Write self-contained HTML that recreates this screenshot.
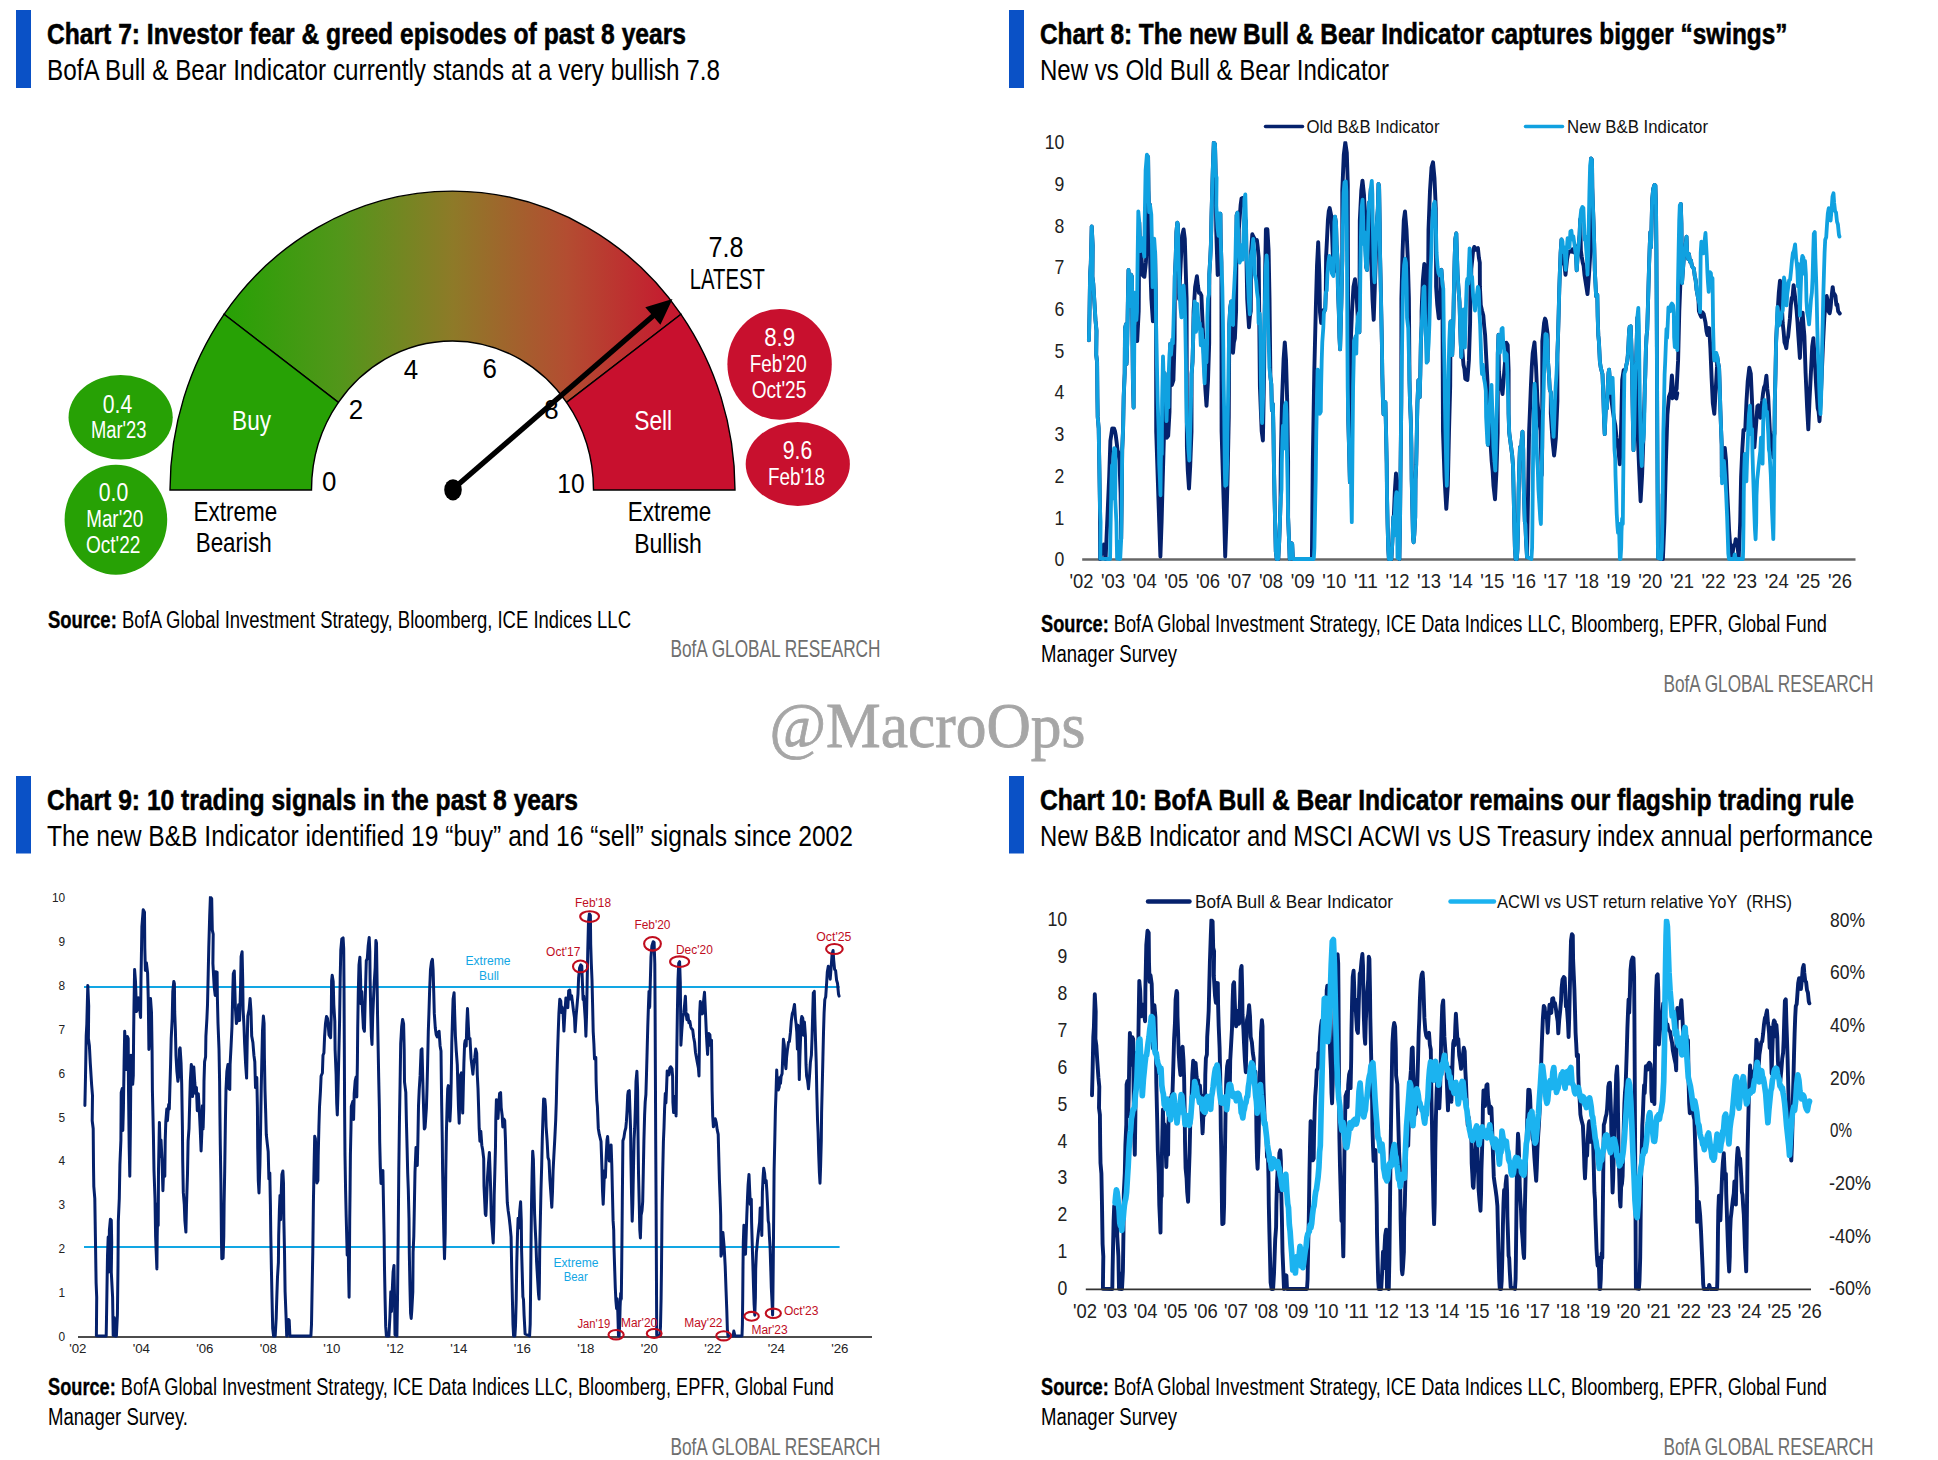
<!DOCTYPE html>
<html lang="en"><head><meta charset="utf-8"><title>BofA Bull &amp; Bear Indicator charts</title>
<style>
html,body{margin:0;padding:0;background:#fff}
body{width:1938px;height:1460px;overflow:hidden}
svg{display:block;font-family:"Liberation Sans", Arial, sans-serif}
</style></head><body>
<svg role="img" aria-label="BofA Bull and Bear Indicator charts 7 to 10" width="1938" height="1460" viewBox="0 0 1938 1460">
<rect width="1938" height="1460" fill="#fff"/>
<rect x="16" y="10" width="15" height="78" fill="#0a51c6"/>
<text x="47.0" y="43.8" font-size="29" fill="#000" font-weight="bold" textLength="639.0" lengthAdjust="spacingAndGlyphs" stroke="#000" stroke-width="0.55">Chart 7: Investor fear &amp; greed episodes of past 8 years</text>
<text x="47.0" y="80.0" font-size="29.5" fill="#000" textLength="673.0" lengthAdjust="spacingAndGlyphs">BofA Bull &amp; Bear Indicator currently stands at a very bullish 7.8</text>
<defs><clipPath id="k8"><rect x="1070" y="141.2" width="800" height="430"/></clipPath><clipPath id="k9"><rect x="70" y="896.3" width="800" height="450"/></clipPath><clipPath id="k10"><rect x="1075" y="918.8" width="760" height="380"/></clipPath><linearGradient id="gg" gradientUnits="userSpaceOnUse" x1="226" y1="0" x2="680" y2="0"><stop offset="0" stop-color="#27a105"/><stop offset="0.25" stop-color="#52961a"/><stop offset="0.5" stop-color="#8e7a28"/><stop offset="0.75" stop-color="#b34d31"/><stop offset="1" stop-color="#c7162f"/></linearGradient></defs>
<path d="M224.0 314.3A282.5 299.0 0 0 1 681.0 314.3L566.6 402.4A141.0 149.0 0 0 0 338.4 402.4Z" fill="url(#gg)" stroke="#000" stroke-width="1.4" stroke-linejoin="miter"/>
<path d="M170.0 490.0A282.5 299.0 0 0 1 224.0 314.3L338.4 402.4A141.0 149.0 0 0 0 311.5 490.0Z" fill="#27a105" stroke="#000" stroke-width="1.4" stroke-linejoin="miter"/>
<path d="M681.0 314.3A282.5 299.0 0 0 1 735.0 490.0L593.5 490.0A141.0 149.0 0 0 0 566.6 402.4Z" fill="#c8102e" stroke="#000" stroke-width="1.4" stroke-linejoin="miter"/>
<ellipse cx="120.65" cy="417.3" rx="52.1" ry="42.2" fill="#27a105"/>
<ellipse cx="115.9" cy="519.8" rx="51.3" ry="55" fill="#27a105"/>
<ellipse cx="779.6" cy="364.3" rx="52.2" ry="55.4" fill="#c8102e"/>
<ellipse cx="797.8" cy="464" rx="52.1" ry="42" fill="#c8102e"/>
<text x="117.5" y="412.5" font-size="25.5" fill="#fff" text-anchor="middle" textLength="29.5" lengthAdjust="spacingAndGlyphs">0.4</text>
<text x="118.7" y="437.9" font-size="23" fill="#fff" text-anchor="middle" textLength="55.5" lengthAdjust="spacingAndGlyphs">Mar'23</text>
<text x="113.5" y="501.2" font-size="25.5" fill="#fff" text-anchor="middle" textLength="29.5" lengthAdjust="spacingAndGlyphs">0.0</text>
<text x="114.7" y="526.9" font-size="23" fill="#fff" text-anchor="middle" textLength="57.0" lengthAdjust="spacingAndGlyphs">Mar'20</text>
<text x="113.2" y="553.1" font-size="23" fill="#fff" text-anchor="middle" textLength="54.5" lengthAdjust="spacingAndGlyphs">Oct'22</text>
<text x="779.7" y="346.0" font-size="25.5" fill="#fff" text-anchor="middle" textLength="31.0" lengthAdjust="spacingAndGlyphs">8.9</text>
<text x="778.3" y="371.9" font-size="23" fill="#fff" text-anchor="middle" textLength="57.0" lengthAdjust="spacingAndGlyphs">Feb'20</text>
<text x="779.0" y="398.1" font-size="23" fill="#fff" text-anchor="middle" textLength="54.5" lengthAdjust="spacingAndGlyphs">Oct'25</text>
<text x="797.5" y="459.4" font-size="25.5" fill="#fff" text-anchor="middle" textLength="29.5" lengthAdjust="spacingAndGlyphs">9.6</text>
<text x="796.5" y="484.9" font-size="23" fill="#fff" text-anchor="middle" textLength="57.0" lengthAdjust="spacingAndGlyphs">Feb'18</text>
<text x="251.6" y="429.7" font-size="28.5" fill="#fff" text-anchor="middle" textLength="39.0" lengthAdjust="spacingAndGlyphs">Buy</text>
<text x="653.2" y="429.7" font-size="28.5" fill="#fff" text-anchor="middle" textLength="38.0" lengthAdjust="spacingAndGlyphs">Sell</text>
<text x="329.1" y="490.5" font-size="28.5" fill="#000" text-anchor="middle" textLength="14.4" lengthAdjust="spacingAndGlyphs">0</text>
<text x="355.9" y="418.9" font-size="28.5" fill="#000" text-anchor="middle" textLength="14.4" lengthAdjust="spacingAndGlyphs">2</text>
<text x="410.9" y="379.2" font-size="28.5" fill="#000" text-anchor="middle" textLength="14.4" lengthAdjust="spacingAndGlyphs">4</text>
<text x="489.8" y="377.9" font-size="28.5" fill="#000" text-anchor="middle" textLength="14.4" lengthAdjust="spacingAndGlyphs">6</text>
<text x="551.4" y="419.0" font-size="28.5" fill="#000" text-anchor="middle" textLength="14.4" lengthAdjust="spacingAndGlyphs">8</text>
<text x="570.9" y="493.0" font-size="28.5" fill="#000" text-anchor="middle" textLength="27.4" lengthAdjust="spacingAndGlyphs">10</text>
<text x="726.0" y="256.6" font-size="29.5" fill="#000" text-anchor="middle" textLength="35.0" lengthAdjust="spacingAndGlyphs">7.8</text>
<text x="727.3" y="288.6" font-size="29.5" fill="#000" text-anchor="middle" textLength="75.0" lengthAdjust="spacingAndGlyphs">LATEST</text>
<text x="235.4" y="520.7" font-size="28.5" fill="#000" text-anchor="middle" textLength="83.6" lengthAdjust="spacingAndGlyphs">Extreme</text>
<text x="233.7" y="552.4" font-size="28.5" fill="#000" text-anchor="middle" textLength="76.0" lengthAdjust="spacingAndGlyphs">Bearish</text>
<text x="669.5" y="520.6" font-size="28.5" fill="#000" text-anchor="middle" textLength="83.6" lengthAdjust="spacingAndGlyphs">Extreme</text>
<text x="668.0" y="552.5" font-size="28.5" fill="#000" text-anchor="middle" textLength="67.7" lengthAdjust="spacingAndGlyphs">Bullish</text>
<line x1="452.5" y1="489.5" x2="654.4" y2="314.7" stroke="#000" stroke-width="5.3"/>
<path d="M672.5 299.0L660.4 324.7L645.3 307.3Z" fill="#000"/>
<ellipse cx="453" cy="489.8" rx="8.8" ry="10.6" fill="#000"/>
<text x="48" y="627.5" font-size="23.5" fill="#000" textLength="583.0" lengthAdjust="spacingAndGlyphs"><tspan font-weight="bold" stroke="#000" stroke-width="0.35">Source:</tspan> BofA Global Investment Strategy, Bloomberg, ICE Indices LLC</text>
<text x="670.5" y="657.0" font-size="24" fill="#6e6e6e" textLength="210.0" lengthAdjust="spacingAndGlyphs">BofA GLOBAL RESEARCH</text>
<rect x="1009" y="10" width="15" height="78" fill="#0a51c6"/>
<text x="1040.0" y="43.8" font-size="29" fill="#000" font-weight="bold" textLength="747.5" lengthAdjust="spacingAndGlyphs" stroke="#000" stroke-width="0.55">Chart 8: The new Bull &amp; Bear Indicator captures bigger “swings”</text>
<text x="1040.0" y="80.0" font-size="29.5" fill="#000" textLength="349.0" lengthAdjust="spacingAndGlyphs">New vs Old Bull &amp; Bear Indicator</text>
<text x="1064.3" y="566.3" font-size="21" fill="#222" text-anchor="end" textLength="9.8" lengthAdjust="spacingAndGlyphs">0</text>
<text x="1064.3" y="524.6" font-size="21" fill="#222" text-anchor="end" textLength="9.8" lengthAdjust="spacingAndGlyphs">1</text>
<text x="1064.3" y="482.8" font-size="21" fill="#222" text-anchor="end" textLength="9.8" lengthAdjust="spacingAndGlyphs">2</text>
<text x="1064.3" y="441.1" font-size="21" fill="#222" text-anchor="end" textLength="9.8" lengthAdjust="spacingAndGlyphs">3</text>
<text x="1064.3" y="399.4" font-size="21" fill="#222" text-anchor="end" textLength="9.8" lengthAdjust="spacingAndGlyphs">4</text>
<text x="1064.3" y="357.6" font-size="21" fill="#222" text-anchor="end" textLength="9.8" lengthAdjust="spacingAndGlyphs">5</text>
<text x="1064.3" y="315.9" font-size="21" fill="#222" text-anchor="end" textLength="9.8" lengthAdjust="spacingAndGlyphs">6</text>
<text x="1064.3" y="274.2" font-size="21" fill="#222" text-anchor="end" textLength="9.8" lengthAdjust="spacingAndGlyphs">7</text>
<text x="1064.3" y="232.5" font-size="21" fill="#222" text-anchor="end" textLength="9.8" lengthAdjust="spacingAndGlyphs">8</text>
<text x="1064.3" y="190.7" font-size="21" fill="#222" text-anchor="end" textLength="9.8" lengthAdjust="spacingAndGlyphs">9</text>
<text x="1064.3" y="149.0" font-size="21" fill="#222" text-anchor="end" textLength="19.6" lengthAdjust="spacingAndGlyphs">10</text>
<line x1="1082.2" y1="559.5" x2="1855.5" y2="559.5" stroke="#666" stroke-width="2.3"/>
<text x="1081.5" y="588.0" font-size="21" fill="#222" text-anchor="middle" textLength="24.0" lengthAdjust="spacingAndGlyphs">'02</text>
<text x="1113.1" y="588.0" font-size="21" fill="#222" text-anchor="middle" textLength="24.0" lengthAdjust="spacingAndGlyphs">'03</text>
<text x="1144.7" y="588.0" font-size="21" fill="#222" text-anchor="middle" textLength="24.0" lengthAdjust="spacingAndGlyphs">'04</text>
<text x="1176.3" y="588.0" font-size="21" fill="#222" text-anchor="middle" textLength="24.0" lengthAdjust="spacingAndGlyphs">'05</text>
<text x="1207.9" y="588.0" font-size="21" fill="#222" text-anchor="middle" textLength="24.0" lengthAdjust="spacingAndGlyphs">'06</text>
<text x="1239.5" y="588.0" font-size="21" fill="#222" text-anchor="middle" textLength="24.0" lengthAdjust="spacingAndGlyphs">'07</text>
<text x="1271.1" y="588.0" font-size="21" fill="#222" text-anchor="middle" textLength="24.0" lengthAdjust="spacingAndGlyphs">'08</text>
<text x="1302.7" y="588.0" font-size="21" fill="#222" text-anchor="middle" textLength="24.0" lengthAdjust="spacingAndGlyphs">'09</text>
<text x="1334.3" y="588.0" font-size="21" fill="#222" text-anchor="middle" textLength="24.0" lengthAdjust="spacingAndGlyphs">'10</text>
<text x="1365.9" y="588.0" font-size="21" fill="#222" text-anchor="middle" textLength="24.0" lengthAdjust="spacingAndGlyphs">'11</text>
<text x="1397.5" y="588.0" font-size="21" fill="#222" text-anchor="middle" textLength="24.0" lengthAdjust="spacingAndGlyphs">'12</text>
<text x="1429.1" y="588.0" font-size="21" fill="#222" text-anchor="middle" textLength="24.0" lengthAdjust="spacingAndGlyphs">'13</text>
<text x="1460.7" y="588.0" font-size="21" fill="#222" text-anchor="middle" textLength="24.0" lengthAdjust="spacingAndGlyphs">'14</text>
<text x="1492.3" y="588.0" font-size="21" fill="#222" text-anchor="middle" textLength="24.0" lengthAdjust="spacingAndGlyphs">'15</text>
<text x="1523.9" y="588.0" font-size="21" fill="#222" text-anchor="middle" textLength="24.0" lengthAdjust="spacingAndGlyphs">'16</text>
<text x="1555.5" y="588.0" font-size="21" fill="#222" text-anchor="middle" textLength="24.0" lengthAdjust="spacingAndGlyphs">'17</text>
<text x="1587.1" y="588.0" font-size="21" fill="#222" text-anchor="middle" textLength="24.0" lengthAdjust="spacingAndGlyphs">'18</text>
<text x="1618.7" y="588.0" font-size="21" fill="#222" text-anchor="middle" textLength="24.0" lengthAdjust="spacingAndGlyphs">'19</text>
<text x="1650.3" y="588.0" font-size="21" fill="#222" text-anchor="middle" textLength="24.0" lengthAdjust="spacingAndGlyphs">'20</text>
<text x="1681.9" y="588.0" font-size="21" fill="#222" text-anchor="middle" textLength="24.0" lengthAdjust="spacingAndGlyphs">'21</text>
<text x="1713.5" y="588.0" font-size="21" fill="#222" text-anchor="middle" textLength="24.0" lengthAdjust="spacingAndGlyphs">'22</text>
<text x="1745.1" y="588.0" font-size="21" fill="#222" text-anchor="middle" textLength="24.0" lengthAdjust="spacingAndGlyphs">'23</text>
<text x="1776.7" y="588.0" font-size="21" fill="#222" text-anchor="middle" textLength="24.0" lengthAdjust="spacingAndGlyphs">'24</text>
<text x="1808.3" y="588.0" font-size="21" fill="#222" text-anchor="middle" textLength="24.0" lengthAdjust="spacingAndGlyphs">'25</text>
<text x="1839.9" y="588.0" font-size="21" fill="#222" text-anchor="middle" textLength="24.0" lengthAdjust="spacingAndGlyphs">'26</text>
<line x1="1265.5" y1="126.5" x2="1302.5" y2="126.5" stroke="#05216c" stroke-width="3.5" stroke-linecap="round"/>
<text x="1306.5" y="133.0" font-size="19" fill="#111" textLength="133.0" lengthAdjust="spacingAndGlyphs">Old B&amp;B Indicator</text>
<line x1="1525.5" y1="126.5" x2="1562.5" y2="126.5" stroke="#10a1e0" stroke-width="3.5" stroke-linecap="round"/>
<text x="1567.0" y="133.0" font-size="19" fill="#111" textLength="141.0" lengthAdjust="spacingAndGlyphs">New B&amp;B Indicator</text>
<path d="M1088.9 340.2L1089.5 313.1L1090.1 274.4L1090.8 263.5L1091.7 226.4L1092.7 245.8L1092.4 276.6L1093.3 283.8L1094.3 300.3L1095.5 320.2L1096.5 330.8L1096.2 354.8L1097.1 362.3L1097.4 397.3L1097.7 416.9L1098.7 428.6L1099.3 464.5L1100.0 508.3L1100.1 559.0L1101.3 553.6L1102.5 547.3L1103.8 544.5L1104.7 552.8L1105.6 559.0L1109.2 476.7L1110.4 440.7L1111.3 434.8L1112.2 428.4L1113.1 429.5L1114.0 428.5L1114.9 430.9L1115.8 435.7L1116.7 442.7L1117.6 450.6L1118.5 452.7L1119.4 460.2L1120.6 492.5L1121.2 538.8L1121.8 492.3L1122.2 450.0L1123.1 428.3L1123.7 396.3L1124.7 373.1L1125.0 328.2L1126.0 324.2L1126.6 363.9L1127.2 343.4L1127.9 299.2L1128.5 270.0L1129.1 283.1L1129.8 306.1L1130.4 294.2L1131.0 274.7L1132.0 276.8L1132.3 325.3L1132.9 380.1L1133.6 407.5L1133.9 323.0L1134.8 332.4L1135.7 340.9L1137.2 341.0L1138.7 311.1L1139.3 222.5L1140.2 251.2L1141.1 250.7L1142.6 275.0L1143.5 276.2L1144.4 276.8L1145.9 262.9L1147.2 235.6L1148.1 156.9L1148.5 190.8L1149.1 212.1L1150.0 204.8L1150.2 262.7L1151.4 299.1L1152.9 321.3L1154.4 309.4L1155.1 252.1L1155.7 289.5L1156.1 325.9L1156.2 431.5L1157.7 476.9L1159.2 521.7L1160.4 556.5L1161.6 522.1L1162.8 476.7L1164.0 434.2L1164.6 373.2L1165.2 419.5L1166.7 437.7L1168.2 435.8L1169.5 411.8L1170.3 343.6L1170.4 359.2L1171.9 385.0L1173.4 380.1L1174.6 339.5L1174.8 276.6L1175.7 257.8L1176.4 232.1L1177.3 222.6L1177.9 224.7L1178.3 251.5L1178.9 269.4L1179.1 298.9L1180.6 265.9L1182.1 235.4L1183.6 229.5L1184.8 238.8L1185.7 268.7L1186.6 298.6L1186.8 422.8L1186.9 446.6L1187.8 470.9L1189.0 488.6L1190.2 466.1L1191.5 431.6L1191.6 374.1L1192.5 362.2L1193.2 337.1L1193.6 311.0L1195.1 287.0L1196.0 281.9L1196.9 276.2L1197.9 285.6L1199.0 292.9L1200.2 293.0L1201.4 295.6L1202.6 323.0L1204.1 358.7L1205.3 388.2L1206.5 405.9L1208.0 381.0L1209.2 342.6L1209.3 274.4L1210.3 257.9L1210.9 244.7L1211.5 215.6L1212.2 189.8L1213.1 160.0L1213.8 142.5L1215.0 144.1L1215.7 173.9L1216.2 229.6L1217.7 275.0L1219.2 250.5L1220.4 213.7L1220.7 238.7L1221.4 262.2L1221.6 431.5L1223.1 482.9L1224.3 521.7L1225.2 556.5L1226.4 522.1L1227.6 476.7L1228.8 416.1L1229.3 324.7L1230.2 307.7L1231.2 301.5L1231.2 323.0L1232.1 338.4L1233.0 352.9L1233.9 342.4L1234.9 338.2L1236.1 310.9L1236.6 215.3L1237.5 212.7L1238.7 247.7L1238.8 229.6L1239.7 217.9L1240.6 205.3L1241.5 198.5L1242.4 198.1L1243.3 200.2L1244.2 202.1L1245.4 221.7L1246.0 220.8L1246.3 249.0L1247.2 298.9L1248.1 313.6L1249.0 327.3L1249.9 316.1L1250.8 311.1L1251.0 255.4L1251.1 250.7L1252.3 234.3L1253.4 236.7L1254.4 238.6L1255.6 240.4L1256.9 240.1L1257.8 247.8L1258.7 257.9L1259.9 386.3L1260.8 409.3L1261.7 431.3L1262.9 440.5L1264.1 371.4L1265.0 280.8L1265.9 229.3L1267.4 229.3L1268.6 250.6L1269.5 298.4L1270.4 376.8L1271.3 384.2L1271.9 410.1L1272.9 404.2L1273.5 434.2L1273.9 463.8L1274.5 495.1L1275.1 522.4L1275.8 551.6L1276.7 559.0L1278.3 559.0L1279.2 541.7L1279.9 522.4L1280.5 503.1L1280.8 461.7L1282.0 401.6L1283.6 359.0L1284.8 342.5L1286.0 359.3L1287.2 401.4L1288.1 461.3L1288.1 517.0L1289.1 541.8L1289.7 559.0L1290.7 551.0L1291.6 543.3L1292.2 544.0L1292.9 559.0L1294.1 559.0L1311.9 559.0L1312.8 461.8L1314.3 371.0L1315.8 309.4L1317.0 265.9L1318.2 242.2L1319.4 274.5L1320.0 312.2L1321.2 323.0L1322.4 316.0L1323.6 309.9L1323.9 312.3L1325.2 309.5L1325.8 292.6L1326.1 256.7L1327.0 239.0L1327.9 220.3L1328.8 211.0L1329.7 208.0L1330.6 212.7L1331.5 217.2L1332.7 251.9L1333.9 271.7L1334.1 253.4L1334.4 222.0L1335.0 216.7L1336.0 222.7L1336.6 244.5L1337.6 260.4L1337.9 287.2L1338.8 310.9L1339.5 337.9L1340.1 349.4L1340.7 326.9L1341.4 301.7L1342.3 259.6L1342.3 190.4L1343.8 154.4L1345.3 142.6L1346.8 152.7L1347.8 184.5L1348.3 421.1L1349.0 446.0L1349.6 470.7L1349.9 482.3L1350.8 341.1L1352.0 311.1L1353.5 286.6L1355.0 279.2L1355.9 290.1L1356.8 298.9L1358.0 322.7L1358.8 313.3L1359.4 332.3L1359.8 220.6L1361.3 190.6L1362.5 180.6L1364.0 194.9L1365.2 220.7L1366.1 266.8L1367.0 270.0L1367.7 247.5L1368.3 223.4L1368.9 202.9L1369.9 200.9L1370.8 188.6L1371.3 262.7L1372.5 299.1L1373.7 319.8L1374.9 285.3L1376.1 250.8L1376.9 222.4L1377.8 209.5L1378.5 183.9L1379.1 186.4L1379.7 223.1L1380.0 251.9L1380.7 283.2L1381.3 313.9L1381.9 343.9L1382.3 374.5L1382.9 398.1L1383.5 414.3L1384.5 403.8L1385.4 402.1L1386.1 434.1L1386.7 463.5L1387.0 494.9L1387.6 524.5L1388.3 549.9L1388.9 559.0L1391.4 559.0L1392.4 540.8L1393.3 517.0L1393.6 521.9L1394.8 492.0L1396.0 473.5L1397.2 490.2L1398.4 537.1L1399.4 559.0L1400.0 524.2L1400.6 463.5L1401.3 401.8L1401.4 298.9L1402.6 250.9L1403.8 220.3L1405.0 211.4L1406.5 229.7L1407.7 256.7L1408.9 298.6L1409.5 380.5L1410.1 404.4L1410.8 419.8L1411.4 447.5L1411.7 479.5L1412.4 510.1L1413.0 537.6L1413.6 542.3L1414.3 534.6L1415.2 517.2L1415.5 479.4L1416.2 464.4L1416.8 434.0L1417.4 403.2L1418.4 380.2L1419.7 397.2L1420.3 373.7L1420.9 340.9L1421.6 325.7L1421.6 311.0L1422.8 281.0L1424.3 264.0L1425.8 270.2L1427.0 299.0L1427.5 361.2L1428.5 229.6L1430.0 190.6L1431.5 167.6L1433.0 162.3L1434.5 178.5L1435.8 208.5L1436.0 231.6L1436.1 286.9L1437.3 305.1L1438.8 318.3L1440.3 297.3L1440.4 271.0L1441.4 269.9L1442.4 283.8L1443.0 431.5L1444.5 476.9L1445.4 493.2L1446.3 508.9L1447.8 485.9L1449.0 431.5L1450.2 386.0L1450.6 321.5L1451.5 329.3L1452.2 355.1L1452.8 341.4L1453.4 318.1L1454.1 280.7L1454.7 257.3L1455.3 239.2L1456.3 233.3L1456.9 253.7L1457.6 274.5L1458.5 288.8L1459.5 301.8L1460.1 323.2L1460.7 342.4L1461.4 357.2L1461.7 341.1L1462.6 353.5L1463.5 365.0L1464.4 368.8L1465.3 378.9L1466.3 379.5L1467.4 380.0L1468.9 360.4L1470.1 323.0L1470.6 265.7L1471.2 277.0L1471.3 268.8L1472.2 260.1L1473.1 250.5L1474.3 246.9L1475.5 249.6L1476.7 248.8L1477.9 248.0L1478.9 257.9L1479.8 262.7L1479.9 286.9L1480.8 305.1L1482.0 310.5L1483.3 315.4L1484.2 326.3L1485.1 335.0L1486.3 358.9L1487.5 381.5L1488.0 444.7L1488.6 429.5L1489.6 408.4L1489.9 431.5L1490.8 446.9L1491.7 461.4L1492.6 470.5L1493.5 485.9L1495.0 499.3L1496.5 470.4L1497.7 432.7L1497.8 353.5L1498.5 334.8L1498.9 371.2L1499.8 380.6L1500.7 389.1L1501.6 388.4L1502.5 394.0L1503.4 382.5L1504.3 370.9L1505.3 359.3L1506.2 342.6L1507.7 345.1L1508.6 370.1L1508.6 413.7L1509.2 432.5L1510.2 440.3L1511.1 446.9L1512.1 454.5L1513.0 465.3L1513.7 495.6L1514.3 523.9L1514.9 548.3L1515.6 559.0L1516.8 559.0L1517.5 549.4L1518.1 524.5L1518.7 488.3L1519.4 462.2L1520.0 447.2L1521.0 456.5L1521.6 441.1L1522.5 431.7L1523.2 449.8L1523.5 477.8L1524.1 498.2L1524.8 521.7L1525.4 524.4L1526.0 539.4L1527.0 557.1L1529.1 431.5L1530.0 409.3L1530.9 386.1L1531.8 366.6L1532.7 353.3L1533.6 347.8L1534.5 342.3L1536.0 366.4L1537.5 401.3L1539.0 419.0L1540.5 430.4L1541.7 475.2L1542.2 446.8L1542.3 341.1L1543.2 332.4L1544.1 322.8L1545.0 318.6L1545.9 320.7L1546.8 327.8L1547.7 334.8L1547.9 360.2L1548.9 373.6L1549.8 389.6L1550.8 392.4L1550.8 413.4L1552.3 437.7L1553.2 446.9L1554.1 455.5L1555.0 447.6L1555.9 437.5L1557.4 401.1L1557.4 354.1L1558.0 337.3L1558.7 312.2L1559.3 288.6L1559.9 271.4L1560.6 253.2L1561.5 239.5L1561.6 250.7L1562.5 257.1L1563.4 262.5L1564.5 265.6L1565.5 274.9L1567.0 259.7L1567.9 254.6L1568.8 251.9L1570.0 251.4L1571.3 251.7L1572.5 249.3L1573.7 252.2L1574.6 249.2L1575.5 246.2L1576.1 257.1L1576.7 270.4L1577.7 255.3L1578.6 245.8L1579.6 234.3L1580.2 219.3L1580.9 250.7L1581.8 257.1L1582.7 262.5L1583.6 265.6L1584.5 274.9L1585.4 280.8L1586.3 286.5L1587.5 294.1L1589.0 274.8L1590.5 250.2L1591.0 158.5L1592.0 159.9L1592.3 187.3L1592.9 205.4L1593.5 221.0L1594.2 244.4L1594.8 270.2L1595.4 281.9L1596.1 296.1L1597.3 294.7L1597.7 316.8L1598.3 335.4L1598.9 341.3L1599.9 362.0L1600.8 367.7L1602.5 374.3L1603.4 398.3L1604.1 421.1L1604.7 434.1L1605.3 419.5L1606.0 402.2L1606.9 408.5L1607.6 390.0L1608.5 373.0L1609.1 369.6L1610.1 383.6L1610.7 392.9L1611.6 401.4L1612.8 410.8L1614.1 419.2L1615.3 425.3L1616.5 437.7L1617.4 443.5L1618.3 449.3L1619.8 464.3L1621.0 431.5L1622.2 379.8L1623.7 370.1L1624.6 369.8L1625.3 370.8L1626.3 365.1L1627.2 361.5L1627.8 355.4L1628.5 344.4L1629.1 330.5L1629.7 326.9L1630.7 326.3L1631.3 343.5L1632.0 363.1L1632.3 389.4L1632.9 422.2L1633.5 450.1L1634.2 433.9L1634.8 403.3L1635.4 372.1L1636.1 361.9L1636.7 341.5L1637.3 317.6L1637.6 431.5L1639.1 467.9L1640.6 501.2L1642.1 475.1L1643.6 431.6L1644.8 386.3L1645.3 374.0L1645.9 349.7L1646.5 336.9L1647.2 329.9L1647.8 310.7L1648.4 289.6L1649.1 264.5L1649.7 247.0L1650.3 232.1L1651.0 247.3L1651.6 223.4L1652.2 199.2L1653.2 188.9L1654.5 184.9L1655.4 185.6L1656.0 205.8L1656.4 250.1L1656.7 310.8L1657.0 373.5L1657.3 434.4L1657.6 492.1L1658.0 558.0L1661.1 559.0L1661.8 549.8L1662.4 523.3L1662.7 494.1L1662.9 559.0L1664.4 522.1L1665.9 461.4L1667.4 414.9L1668.9 397.0L1669.8 394.5L1670.7 392.0L1671.9 375.4L1673.4 395.3L1674.5 395.9L1675.5 397.3L1676.4 398.4L1677.3 393.1L1670.0 395.4L1671.2 397.2L1672.4 398.1L1673.6 392.2L1674.8 392.5L1675.7 390.8L1676.6 389.0L1678.1 360.4L1679.3 310.9L1680.5 280.3L1680.8 203.9L1681.4 223.4L1681.7 250.4L1682.0 283.1L1683.0 269.2L1683.9 256.5L1684.9 252.6L1685.8 243.8L1686.5 236.7L1687.1 251.5L1688.1 258.9L1689.0 254.2L1690.0 261.7L1690.9 260.4L1691.9 265.9L1692.8 267.6L1693.8 268.5L1694.7 275.6L1695.7 280.5L1696.6 290.0L1697.6 295.3L1698.5 300.4L1698.9 311.0L1700.1 314.3L1701.3 316.8L1702.5 312.3L1703.7 314.1L1704.6 318.4L1705.5 322.7L1706.5 331.4L1707.4 335.0L1708.3 331.1L1709.2 328.0L1710.4 348.7L1711.6 378.0L1712.8 402.9L1714.3 413.8L1715.8 388.6L1717.0 366.9L1717.2 356.3L1718.2 363.5L1719.1 367.7L1719.8 389.5L1720.4 410.6L1721.0 427.2L1721.7 444.6L1721.8 476.7L1723.3 455.8L1724.8 447.9L1726.0 460.1L1727.2 491.9L1728.2 511.3L1729.1 530.6L1730.3 547.2L1731.8 559.0L1732.8 551.5L1733.9 544.9L1734.8 545.3L1735.7 539.2L1736.6 545.3L1737.5 544.9L1738.7 558.3L1740.2 521.9L1741.1 476.9L1742.3 449.4L1743.5 429.9L1744.4 430.3L1745.3 428.5L1746.5 401.1L1747.7 381.5L1749.3 367.6L1750.8 373.8L1752.0 400.3L1753.2 433.0L1754.4 447.3L1755.9 427.0L1757.4 406.2L1758.3 405.2L1759.2 407.6L1760.4 417.7L1761.3 406.9L1762.2 400.8L1763.1 393.0L1764.0 387.6L1765.2 384.7L1766.4 375.7L1767.3 388.9L1768.2 396.5L1769.1 415.4L1770.0 433.3L1771.0 439.3L1771.9 446.8L1773.4 457.4L1774.3 431.4L1774.5 434.4L1774.8 401.9L1775.5 372.7L1776.1 341.1L1777.3 317.2L1778.8 292.7L1780.0 280.7L1781.5 299.0L1782.7 323.0L1783.6 331.4L1784.5 342.3L1785.4 344.8L1786.3 348.2L1787.2 339.7L1788.1 336.6L1789.0 327.5L1789.9 318.5L1790.8 305.6L1791.7 298.2L1792.6 296.3L1793.6 285.1L1795.1 297.2L1796.6 310.4L1797.5 322.2L1798.4 336.4L1799.9 358.0L1801.4 322.9L1802.6 312.6L1803.5 325.3L1804.4 336.0L1805.6 373.0L1807.1 407.5L1808.3 429.3L1809.5 400.1L1811.0 371.2L1812.2 346.6L1813.4 338.1L1814.7 358.6L1816.2 386.5L1817.7 408.2L1818.6 411.5L1819.5 421.2L1820.7 400.1L1821.9 370.5L1823.1 341.8L1824.3 318.0L1825.5 302.7L1826.7 296.0L1827.6 300.7L1828.5 311.3L1829.7 313.3L1830.6 307.6L1831.5 297.2L1832.7 287.1L1833.6 294.4L1834.5 294.0L1835.4 295.8L1836.4 305.1L1837.3 304.4L1838.2 311.4L1839.8 313.5" clip-path="url(#k8)" fill="none" stroke="#05216c" stroke-width="3.9" stroke-linejoin="round" stroke-linecap="round"/>
<path d="M1088.9 340.2L1089.5 313.1L1090.1 274.4L1090.8 263.5L1091.7 226.4L1092.7 245.8L1092.4 276.6L1093.3 283.8L1094.3 300.3L1095.5 320.2L1096.5 330.8L1096.2 354.8L1097.1 362.3L1097.4 397.3L1097.7 416.9L1098.7 428.6L1099.3 464.5L1100.0 508.3L1100.6 522.2L1100.3 558.7L1110.1 559.0L1110.4 536.4L1111.4 482.8L1112.0 465.2L1112.6 498.4L1113.3 458.2L1114.2 448.2L1115.2 449.2L1115.5 470.2L1115.2 498.6L1116.4 522.1L1117.1 558.7L1118.0 541.5L1119.0 559.0L1120.2 559.0L1121.2 538.8L1121.8 492.3L1122.2 450.0L1123.1 428.3L1123.7 396.3L1124.7 373.1L1125.0 328.2L1126.0 324.2L1126.6 363.9L1127.2 343.4L1127.9 299.2L1128.5 270.0L1129.1 283.1L1129.8 306.1L1130.4 294.2L1131.0 274.7L1132.0 276.8L1132.3 325.3L1132.9 380.1L1133.6 407.5L1134.2 361.1L1134.5 317.5L1134.8 292.6L1136.1 294.3L1136.4 320.2L1137.0 311.8L1137.4 275.2L1137.7 251.7L1138.3 211.3L1139.3 222.5L1140.2 251.2L1141.2 248.6L1142.1 238.1L1143.1 246.1L1144.3 256.7L1144.7 220.1L1145.6 170.5L1146.9 154.7L1148.1 156.9L1148.5 190.8L1149.1 212.1L1150.0 204.8L1151.3 214.5L1151.9 240.7L1152.6 287.1L1153.5 260.4L1154.2 238.7L1155.1 252.1L1155.7 289.5L1156.1 325.9L1157.0 368.4L1157.7 402.0L1158.6 428.6L1159.2 464.4L1159.9 479.0L1160.5 495.3L1160.8 465.1L1161.5 433.5L1161.8 454.2L1162.1 401.6L1162.7 371.6L1163.0 356.4L1164.0 388.8L1164.6 373.2L1165.6 391.5L1166.5 421.2L1167.2 401.3L1168.4 407.4L1168.7 374.0L1169.4 355.7L1170.3 343.6L1171.0 354.8L1172.2 339.3L1172.9 343.5L1173.5 323.3L1174.1 300.6L1174.8 276.6L1175.7 257.8L1176.4 232.1L1177.3 222.6L1177.9 224.7L1178.3 251.5L1178.9 269.4L1179.5 292.9L1180.5 307.9L1181.4 317.4L1182.4 311.0L1183.0 287.1L1183.6 285.6L1184.6 300.7L1185.2 319.9L1185.9 360.2L1186.2 392.6L1186.8 422.8L1187.8 434.4L1188.4 449.6L1189.3 460.5L1190.0 434.9L1190.9 404.9L1191.6 374.1L1192.5 362.2L1193.2 337.1L1193.8 317.2L1194.7 301.3L1195.4 304.4L1196.0 331.9L1197.0 322.4L1197.3 303.9L1198.2 319.0L1199.2 328.9L1199.8 323.2L1200.8 345.3L1201.7 329.1L1202.7 342.7L1203.6 362.3L1204.6 383.4L1205.2 367.4L1205.8 340.5L1206.5 362.5L1207.1 343.9L1207.4 317.2L1208.0 298.6L1209.0 294.2L1209.3 274.4L1210.3 257.9L1210.9 244.7L1211.5 215.6L1212.2 189.8L1213.1 160.0L1213.8 142.5L1215.0 144.1L1215.7 173.9L1216.6 177.7L1216.3 205.6L1217.6 227.7L1218.5 235.8L1218.8 213.3L1220.4 213.7L1220.7 238.7L1221.4 262.2L1222.3 286.9L1222.9 317.3L1223.3 347.5L1223.6 378.0L1224.2 413.1L1224.5 442.3L1224.8 470.1L1225.2 485.8L1226.4 484.9L1227.1 464.3L1227.4 434.2L1228.0 402.3L1228.7 356.0L1229.3 324.7L1230.2 307.7L1231.2 301.5L1232.1 324.3L1233.1 325.0L1233.4 301.4L1234.4 283.2L1235.3 265.2L1235.9 235.0L1236.6 215.3L1237.5 212.7L1238.7 247.7L1239.6 262.6L1240.9 259.0L1241.8 244.8L1242.8 259.6L1243.7 230.2L1244.4 199.1L1245.3 194.4L1246.0 220.8L1246.3 249.0L1247.2 265.3L1247.9 281.1L1248.8 300.9L1249.8 314.3L1250.4 280.4L1251.0 255.4L1252.3 249.3L1253.2 238.8L1254.2 251.1L1254.8 274.4L1256.1 280.6L1257.1 292.6L1258.0 298.8L1258.6 323.3L1259.9 313.7L1260.5 341.4L1260.9 380.1L1261.5 411.5L1262.1 423.2L1263.1 396.8L1263.7 362.1L1264.3 326.3L1265.0 298.6L1265.6 269.5L1266.6 255.5L1267.2 262.4L1267.5 294.5L1268.1 326.1L1268.8 347.4L1269.4 367.9L1270.4 376.8L1271.3 384.2L1271.9 410.1L1272.9 404.2L1273.5 434.2L1273.9 463.8L1274.5 495.1L1275.1 522.4L1275.8 551.6L1276.7 559.0L1278.3 559.0L1279.2 541.7L1279.9 522.4L1280.5 503.1L1281.5 489.1L1281.8 463.5L1282.4 439.2L1283.0 425.6L1283.7 448.7L1284.3 421.4L1284.9 405.7L1285.9 402.5L1286.5 414.0L1286.8 446.6L1287.5 478.7L1288.1 517.0L1289.1 541.8L1289.7 559.0L1290.7 551.0L1291.6 543.3L1292.2 544.0L1292.9 559.0L1294.1 559.0L1313.8 559.0L1314.4 547.9L1315.1 509.7L1315.7 479.4L1316.3 432.2L1317.0 397.0L1317.6 369.6L1318.2 371.9L1318.9 392.4L1319.8 413.8L1320.8 411.7L1321.1 387.9L1321.7 360.7L1322.3 341.9L1323.3 327.7L1323.9 312.3L1325.2 309.5L1325.8 292.6L1326.8 290.5L1327.4 274.7L1328.4 262.4L1329.3 255.9L1330.3 257.8L1330.9 262.4L1331.9 273.4L1333.4 276.0L1334.1 253.4L1334.4 222.0L1335.0 216.7L1336.0 222.7L1336.6 244.5L1337.6 260.4L1337.9 287.2L1338.8 310.9L1339.5 337.9L1340.1 349.4L1340.7 326.9L1341.4 301.7L1342.3 259.6L1343.0 220.0L1343.6 192.6L1344.5 182.3L1345.8 181.4L1346.4 191.6L1346.8 226.0L1347.1 280.9L1347.4 343.9L1347.7 388.2L1348.3 421.1L1349.0 446.0L1349.6 470.7L1349.9 482.3L1350.9 462.6L1351.2 495.5L1351.8 522.2L1352.1 493.9L1352.5 450.2L1352.8 418.8L1353.1 387.5L1353.7 360.7L1354.0 341.2L1355.6 336.3L1356.3 353.6L1356.9 328.8L1357.8 316.9L1358.8 313.3L1359.4 332.3L1360.1 299.3L1360.4 267.9L1361.0 232.2L1361.7 206.9L1362.6 199.7L1363.2 220.6L1363.6 243.8L1364.5 232.1L1365.1 250.4L1366.1 266.8L1367.0 270.0L1367.7 247.5L1368.3 223.4L1368.9 202.9L1369.9 200.9L1370.8 188.6L1371.8 180.8L1372.4 194.1L1372.7 220.6L1373.4 253.5L1374.0 274.8L1374.6 282.3L1375.3 256.7L1375.9 243.1L1376.9 222.4L1377.8 209.5L1378.5 183.9L1379.1 186.4L1379.7 223.1L1380.0 251.9L1380.7 283.2L1381.3 313.9L1381.9 343.9L1382.3 374.5L1382.9 398.1L1383.5 414.3L1384.5 403.8L1385.4 402.1L1386.1 434.1L1386.7 463.5L1387.0 494.9L1387.6 524.5L1388.3 549.9L1388.9 559.0L1391.4 559.0L1392.4 540.8L1393.3 517.0L1394.0 535.8L1394.6 519.0L1395.6 498.3L1396.5 492.1L1397.2 525.4L1397.5 557.8L1399.4 559.0L1400.0 524.2L1400.6 463.5L1401.3 401.8L1401.9 358.1L1402.5 318.4L1403.2 281.5L1404.1 265.3L1405.1 258.6L1406.0 262.8L1406.7 287.5L1407.0 317.9L1408.2 327.9L1408.9 355.3L1409.5 380.5L1410.1 404.4L1410.8 419.8L1411.4 447.5L1411.7 479.5L1412.4 510.1L1413.0 537.6L1413.6 542.3L1414.3 534.6L1415.2 517.2L1415.5 479.4L1416.2 464.4L1416.8 434.0L1417.4 403.2L1418.4 380.2L1419.7 397.2L1420.3 373.7L1420.9 340.9L1421.6 325.7L1422.5 312.2L1423.5 287.7L1424.4 286.5L1425.0 313.1L1426.0 343.2L1426.6 362.6L1427.5 361.2L1428.7 342.7L1429.4 324.5L1430.0 301.4L1430.6 270.1L1431.3 253.8L1431.9 231.7L1432.8 211.2L1433.8 204.0L1434.7 201.7L1435.4 211.5L1436.0 231.6L1436.6 253.0L1437.6 266.8L1438.5 273.0L1439.5 275.2L1440.4 271.0L1441.4 269.9L1442.4 283.8L1443.3 288.6L1443.6 313.1L1443.9 340.8L1444.6 374.1L1444.9 402.2L1445.5 432.7L1446.2 465.2L1446.8 485.8L1447.4 462.0L1447.7 432.8L1448.1 402.2L1448.7 365.6L1449.3 340.9L1450.0 324.4L1450.6 321.5L1451.5 329.3L1452.2 355.1L1452.8 341.4L1453.4 318.1L1454.1 280.7L1454.7 257.3L1455.3 239.2L1456.3 233.3L1456.9 253.7L1457.6 274.5L1458.5 288.8L1459.5 301.8L1460.1 323.2L1460.7 342.4L1461.4 357.2L1462.0 330.1L1462.6 311.7L1463.6 309.4L1464.2 332.4L1464.9 347.5L1465.5 323.6L1466.1 300.3L1466.8 282.1L1467.4 278.6L1468.3 283.8L1469.0 263.2L1469.6 248.4L1470.6 265.7L1471.2 277.0L1472.1 276.8L1473.1 295.4L1474.0 302.4L1475.0 310.6L1475.9 300.3L1476.9 294.7L1477.9 286.8L1478.8 290.6L1479.4 311.4L1480.1 324.1L1480.7 342.1L1481.3 362.3L1482.0 374.2L1482.9 364.7L1483.9 378.0L1484.8 382.6L1485.8 390.7L1486.1 417.0L1486.7 428.9L1487.4 443.2L1488.0 444.7L1488.6 429.5L1489.6 408.4L1490.5 394.8L1491.5 384.9L1492.1 403.2L1492.7 421.3L1493.4 446.8L1494.3 459.0L1495.3 470.6L1495.9 449.6L1496.2 425.6L1496.9 404.9L1497.5 379.0L1497.8 353.5L1498.5 334.8L1499.4 342.8L1500.0 352.6L1500.7 340.7L1501.6 328.9L1502.6 328.0L1503.2 342.3L1504.2 350.0L1504.8 360.7L1505.7 353.0L1506.7 354.6L1507.3 371.6L1508.0 394.0L1508.6 413.7L1509.2 432.5L1510.2 440.3L1511.1 446.9L1512.1 454.5L1513.0 465.3L1513.7 495.6L1514.3 523.9L1514.9 548.3L1515.6 559.0L1516.8 559.0L1517.5 549.4L1518.1 524.5L1518.7 488.3L1519.4 462.2L1520.0 447.2L1521.0 456.5L1521.6 441.1L1522.5 431.7L1523.2 449.8L1523.5 477.8L1524.1 498.2L1524.8 521.7L1525.4 524.4L1526.0 539.4L1527.0 557.1L1531.4 559.0L1532.1 547.7L1532.4 524.4L1532.7 494.0L1533.0 464.3L1533.3 435.0L1534.0 404.5L1534.6 383.7L1535.2 391.8L1535.9 416.5L1536.5 443.3L1537.1 458.3L1537.8 469.5L1538.4 488.8L1539.3 503.2L1540.3 519.2L1540.9 524.0L1541.2 507.6L1541.6 478.1L1542.2 446.8L1542.8 419.5L1543.5 396.8L1544.1 372.0L1544.7 353.4L1545.4 334.2L1546.6 334.3L1547.3 341.7L1547.9 360.2L1548.9 373.6L1549.8 389.6L1550.8 392.4L1551.7 410.5L1552.7 424.3L1553.6 436.9L1554.2 421.9L1554.9 402.2L1555.5 389.2L1556.5 373.7L1557.4 354.1L1558.0 337.3L1558.7 312.2L1559.3 288.6L1559.9 271.4L1560.6 253.2L1561.5 239.5L1562.5 241.4L1563.1 252.0L1563.7 247.0L1564.7 250.5L1565.7 269.8L1566.6 252.2L1567.6 238.2L1568.5 244.1L1569.5 247.5L1570.4 231.4L1571.4 230.8L1572.3 239.4L1573.3 236.3L1574.2 242.6L1575.2 250.5L1576.1 257.1L1576.7 270.4L1577.7 255.3L1578.6 245.8L1579.6 234.3L1580.2 219.3L1581.2 209.8L1582.5 206.9L1583.4 207.9L1584.0 223.2L1584.7 239.9L1585.3 236.4L1585.9 244.6L1586.9 259.1L1587.5 274.6L1588.2 252.9L1588.8 222.1L1589.4 191.7L1590.1 165.7L1591.0 158.5L1592.0 159.9L1592.3 187.3L1592.9 205.4L1593.5 221.0L1594.2 244.4L1594.8 270.2L1595.4 281.9L1596.1 296.1L1597.3 294.7L1597.7 316.8L1598.3 335.4L1598.9 341.3L1599.9 362.0L1600.8 367.7L1602.5 374.3L1603.4 398.3L1604.1 421.1L1604.7 434.1L1605.3 419.5L1606.0 402.2L1606.9 408.5L1607.6 390.0L1608.5 373.0L1609.1 369.6L1610.1 383.6L1610.7 392.9L1611.7 382.9L1612.6 377.9L1613.3 396.5L1613.9 421.9L1614.5 449.8L1615.2 458.4L1615.5 475.1L1616.1 492.9L1616.7 513.3L1617.4 525.5L1618.0 532.9L1618.6 523.6L1619.3 536.4L1619.9 559.0L1620.5 559.0L1621.2 547.7L1621.5 531.8L1622.1 518.6L1622.8 524.1L1623.1 492.0L1623.4 462.9L1623.7 431.8L1624.0 403.1L1624.4 373.8L1625.3 370.8L1626.3 365.1L1627.2 361.5L1627.8 355.4L1628.5 344.4L1629.1 330.5L1629.7 326.9L1630.7 326.3L1631.3 343.5L1632.0 363.1L1632.3 389.4L1632.9 422.2L1633.5 450.1L1634.2 433.9L1634.8 403.3L1635.4 372.1L1636.1 361.9L1636.7 341.5L1637.3 317.6L1638.3 307.9L1638.9 325.6L1639.3 359.0L1639.9 403.8L1640.5 432.1L1641.2 458.4L1641.8 466.0L1642.4 444.4L1643.4 440.1L1644.0 431.6L1644.6 403.1L1645.3 374.0L1645.9 349.7L1646.5 336.9L1647.2 329.9L1647.8 310.7L1648.4 289.6L1649.1 264.5L1649.7 247.0L1650.3 232.1L1651.0 247.3L1651.6 223.4L1652.2 199.2L1653.2 188.9L1654.5 184.9L1655.4 185.6L1656.0 205.8L1656.4 250.1L1656.7 310.8L1657.0 373.5L1657.3 434.4L1657.6 492.1L1658.0 558.0L1661.1 559.0L1661.8 549.8L1662.4 523.3L1662.7 494.1L1663.0 464.0L1663.3 433.9L1664.0 404.3L1664.6 374.7L1665.2 361.6L1665.9 343.2L1666.5 328.8L1667.1 338.0L1667.8 322.7L1668.4 307.5L1669.4 309.9L1670.3 311.2L1670.9 305.2L1671.9 303.6L1673.2 305.6L1673.8 312.5L1674.1 337.1L1674.8 347.1L1675.7 331.7L1676.7 337.1L1677.3 350.2L1677.6 326.3L1677.9 288.6L1678.6 250.8L1679.2 220.8L1679.8 205.4L1680.8 203.9L1681.4 223.4L1681.7 250.4L1682.0 283.1L1683.0 269.2L1683.9 256.5L1684.9 252.6L1685.8 243.8L1686.5 236.7L1687.1 251.5L1688.1 258.9L1689.0 254.2L1690.0 261.7L1690.9 260.4L1691.9 265.9L1692.8 267.6L1693.8 268.5L1694.7 275.6L1695.7 280.5L1696.6 290.0L1697.6 295.3L1698.5 300.4L1699.5 304.6L1700.1 312.2L1700.4 282.6L1700.7 252.9L1701.4 241.7L1702.3 246.0L1703.0 253.4L1703.6 253.2L1704.5 241.8L1705.5 233.0L1706.1 244.7L1706.8 257.0L1707.4 272.7L1708.0 282.8L1708.7 291.9L1709.3 276.7L1709.9 272.1L1710.9 273.2L1711.5 283.3L1712.5 278.2L1712.8 301.3L1713.1 326.1L1713.7 350.4L1714.4 360.6L1715.3 356.9L1716.3 352.9L1717.2 356.3L1718.2 363.5L1719.1 367.7L1719.8 389.5L1720.4 410.6L1721.0 427.2L1721.7 444.6L1722.0 483.3L1722.9 479.6L1723.9 460.8L1725.1 475.1L1726.1 493.0L1727.1 516.9L1727.7 534.7L1728.3 553.5L1729.0 559.0L1734.0 559.0L1734.7 554.4L1735.9 559.0L1742.9 559.0L1743.2 547.8L1743.5 524.4L1743.8 492.8L1744.2 470.6L1744.8 453.9L1745.8 455.4L1746.4 481.4L1747.0 462.0L1747.7 445.1L1748.3 427.9L1748.9 415.5L1749.9 405.7L1750.5 421.2L1751.1 434.3L1752.1 429.1L1752.4 450.8L1753.0 470.7L1753.7 492.2L1754.3 511.9L1754.9 528.8L1755.6 539.3L1756.2 522.4L1756.5 495.4L1757.2 479.4L1757.8 474.0L1758.4 467.7L1759.4 458.7L1760.3 451.1L1761.0 437.7L1761.9 439.8L1762.6 463.6L1762.9 442.5L1763.2 422.1L1763.8 408.1L1764.5 399.9L1765.4 404.5L1766.0 413.3L1767.0 411.7L1767.6 422.2L1768.3 433.8L1768.9 449.7L1769.5 452.5L1770.2 464.4L1770.8 475.2L1771.4 493.1L1772.1 512.9L1772.7 525.7L1773.3 539.1L1773.6 523.2L1773.9 494.9L1774.2 464.2L1774.5 434.4L1774.8 401.9L1775.5 372.7L1776.1 344.3L1776.8 326.0L1777.4 306.8L1778.0 318.3L1779.0 325.5L1779.9 323.0L1780.6 313.7L1781.2 319.2L1781.8 312.7L1782.8 310.2L1783.4 295.0L1784.0 277.5L1785.0 282.9L1785.9 300.1L1786.6 305.4L1787.2 294.6L1788.2 286.9L1789.1 280.3L1790.1 279.7L1791.0 271.2L1792.0 260.2L1792.9 253.1L1793.9 250.8L1795.1 244.4L1796.1 258.3L1796.7 262.9L1797.4 270.5L1798.0 286.8L1798.6 264.2L1799.3 289.5L1799.9 315.7L1800.5 294.1L1801.2 275.6L1801.8 259.5L1802.4 255.9L1803.4 257.6L1804.0 273.6L1805.0 261.0L1805.9 274.5L1806.5 301.1L1807.2 312.3L1808.1 316.9L1809.1 324.4L1810.0 312.4L1811.0 299.2L1811.9 292.5L1812.6 277.3L1813.2 253.4L1813.8 233.7L1814.8 232.1L1815.4 258.1L1816.1 277.8L1816.7 298.7L1817.3 327.9L1818.0 353.2L1818.6 366.3L1819.2 386.7L1819.9 404.3L1820.5 414.1L1821.1 398.0L1821.8 373.2L1822.1 347.4L1822.7 323.3L1823.3 295.5L1824.0 271.2L1824.6 252.4L1825.2 239.8L1826.2 237.3L1827.1 223.2L1827.8 213.6L1828.7 208.2L1829.7 209.7L1830.6 220.5L1831.6 209.4L1832.5 196.6L1833.5 193.3L1834.1 202.4L1835.1 211.1L1836.0 212.3L1837.0 221.6L1837.9 224.3L1838.9 234.6L1839.5 236.6" clip-path="url(#k8)" fill="none" stroke="#10a1e0" stroke-width="3.8" stroke-linejoin="round" stroke-linecap="round"/>
<text x="1041" y="631.5" font-size="23.5" fill="#000" textLength="786.0" lengthAdjust="spacingAndGlyphs"><tspan font-weight="bold" stroke="#000" stroke-width="0.35">Source:</tspan> BofA Global Investment Strategy, ICE Data Indices LLC, Bloomberg, EPFR, Global Fund</text>
<text x="1041.0" y="661.5" font-size="23.5" fill="#000" textLength="136.0" lengthAdjust="spacingAndGlyphs">Manager Survey</text>
<text x="1663.5" y="692.0" font-size="24" fill="#6e6e6e" textLength="210.0" lengthAdjust="spacingAndGlyphs">BofA GLOBAL RESEARCH</text>
<text x="927.5" y="746.7" font-size="64" fill="#a6a6a6" text-anchor="middle" textLength="316.0" lengthAdjust="spacingAndGlyphs" stroke="#a6a6a6" stroke-width="0.8" font-family='"Liberation Serif", "Times New Roman", serif'>@MacroOps</text>
<rect x="16" y="776" width="15" height="77.5" fill="#0a51c6"/>
<text x="47.0" y="809.8" font-size="29" fill="#000" font-weight="bold" textLength="531.0" lengthAdjust="spacingAndGlyphs" stroke="#000" stroke-width="0.55">Chart 9: 10 trading signals in the past 8 years</text>
<text x="47.0" y="846.0" font-size="29.5" fill="#000" textLength="806.0" lengthAdjust="spacingAndGlyphs">The new B&amp;B Indicator identified 19 “buy” and 16 “sell” signals since 2002</text>
<text x="65.2" y="1341.0" font-size="12.5" fill="#222" text-anchor="end" textLength="6.6" lengthAdjust="spacingAndGlyphs">0</text>
<text x="65.2" y="1297.1" font-size="12.5" fill="#222" text-anchor="end" textLength="6.6" lengthAdjust="spacingAndGlyphs">1</text>
<text x="65.2" y="1253.2" font-size="12.5" fill="#222" text-anchor="end" textLength="6.6" lengthAdjust="spacingAndGlyphs">2</text>
<text x="65.2" y="1209.3" font-size="12.5" fill="#222" text-anchor="end" textLength="6.6" lengthAdjust="spacingAndGlyphs">3</text>
<text x="65.2" y="1165.4" font-size="12.5" fill="#222" text-anchor="end" textLength="6.6" lengthAdjust="spacingAndGlyphs">4</text>
<text x="65.2" y="1121.5" font-size="12.5" fill="#222" text-anchor="end" textLength="6.6" lengthAdjust="spacingAndGlyphs">5</text>
<text x="65.2" y="1077.6" font-size="12.5" fill="#222" text-anchor="end" textLength="6.6" lengthAdjust="spacingAndGlyphs">6</text>
<text x="65.2" y="1033.7" font-size="12.5" fill="#222" text-anchor="end" textLength="6.6" lengthAdjust="spacingAndGlyphs">7</text>
<text x="65.2" y="989.8" font-size="12.5" fill="#222" text-anchor="end" textLength="6.6" lengthAdjust="spacingAndGlyphs">8</text>
<text x="65.2" y="945.9" font-size="12.5" fill="#222" text-anchor="end" textLength="6.6" lengthAdjust="spacingAndGlyphs">9</text>
<text x="65.2" y="902.0" font-size="12.5" fill="#222" text-anchor="end" textLength="13.2" lengthAdjust="spacingAndGlyphs">10</text>
<line x1="78" y1="1337" x2="872" y2="1337" stroke="#111" stroke-width="1.5"/>
<text x="77.8" y="1353.0" font-size="13.4" fill="#222" text-anchor="middle" textLength="17.3" lengthAdjust="spacingAndGlyphs">'02</text>
<text x="141.3" y="1353.0" font-size="13.4" fill="#222" text-anchor="middle" textLength="17.3" lengthAdjust="spacingAndGlyphs">'04</text>
<text x="204.8" y="1353.0" font-size="13.4" fill="#222" text-anchor="middle" textLength="17.3" lengthAdjust="spacingAndGlyphs">'06</text>
<text x="268.3" y="1353.0" font-size="13.4" fill="#222" text-anchor="middle" textLength="17.3" lengthAdjust="spacingAndGlyphs">'08</text>
<text x="331.8" y="1353.0" font-size="13.4" fill="#222" text-anchor="middle" textLength="17.3" lengthAdjust="spacingAndGlyphs">'10</text>
<text x="395.3" y="1353.0" font-size="13.4" fill="#222" text-anchor="middle" textLength="17.3" lengthAdjust="spacingAndGlyphs">'12</text>
<text x="458.8" y="1353.0" font-size="13.4" fill="#222" text-anchor="middle" textLength="17.3" lengthAdjust="spacingAndGlyphs">'14</text>
<text x="522.3" y="1353.0" font-size="13.4" fill="#222" text-anchor="middle" textLength="17.3" lengthAdjust="spacingAndGlyphs">'16</text>
<text x="585.8" y="1353.0" font-size="13.4" fill="#222" text-anchor="middle" textLength="17.3" lengthAdjust="spacingAndGlyphs">'18</text>
<text x="649.3" y="1353.0" font-size="13.4" fill="#222" text-anchor="middle" textLength="17.3" lengthAdjust="spacingAndGlyphs">'20</text>
<text x="712.8" y="1353.0" font-size="13.4" fill="#222" text-anchor="middle" textLength="17.3" lengthAdjust="spacingAndGlyphs">'22</text>
<text x="776.3" y="1353.0" font-size="13.4" fill="#222" text-anchor="middle" textLength="17.3" lengthAdjust="spacingAndGlyphs">'24</text>
<text x="839.8" y="1353.0" font-size="13.4" fill="#222" text-anchor="middle" textLength="17.3" lengthAdjust="spacingAndGlyphs">'26</text>
<line x1="84" y1="987" x2="839.6" y2="987" stroke="#12a6e4" stroke-width="2"/>
<line x1="84" y1="1247" x2="839.6" y2="1247" stroke="#12a6e4" stroke-width="2"/>
<path d="M84.9 1105.4L85.5 1076.8L86.2 1036.1L86.8 1024.5L87.8 985.4L88.7 1005.9L88.4 1038.4L89.4 1046.0L90.3 1063.3L91.6 1084.3L92.5 1095.5L92.2 1120.8L93.2 1128.7L93.5 1165.6L93.8 1186.3L94.8 1198.6L95.4 1236.4L96.1 1282.6L96.7 1297.2L96.4 1335.7L106.2 1336.0L106.6 1312.2L107.5 1255.7L108.2 1237.1L108.8 1272.1L109.4 1229.8L110.4 1219.2L111.3 1220.3L111.7 1242.4L111.3 1272.3L112.6 1297.1L113.2 1335.6L114.2 1317.6L115.2 1336.0L116.4 1336.0L117.4 1314.7L118.0 1265.7L118.3 1221.1L119.3 1198.3L119.9 1164.5L120.9 1140.1L121.2 1092.7L122.2 1088.5L122.8 1130.4L123.4 1108.7L124.1 1062.2L124.7 1031.3L125.4 1045.2L126.0 1069.4L126.6 1056.9L127.3 1036.4L128.2 1038.6L128.5 1089.7L129.2 1147.4L129.8 1176.3L130.4 1127.4L130.8 1081.4L131.1 1055.2L132.4 1057.0L132.7 1084.3L133.3 1075.4L133.6 1036.8L133.9 1012.1L134.6 969.5L135.5 981.3L136.5 1011.6L137.5 1008.8L138.4 997.7L139.4 1006.2L140.6 1017.4L141.0 978.8L141.9 926.5L143.2 909.8L144.5 912.2L144.8 947.9L145.4 970.4L146.4 962.7L147.6 972.9L148.3 1000.5L148.9 1049.5L149.9 1021.3L150.5 998.4L151.5 1012.5L152.1 1051.9L152.4 1090.3L153.4 1135.2L154.0 1170.6L155.0 1198.6L155.6 1236.3L156.2 1251.7L156.9 1268.9L157.2 1237.0L157.8 1203.7L158.2 1225.6L158.5 1170.1L159.1 1138.5L159.4 1122.4L160.4 1156.6L161.0 1140.1L162.0 1159.4L162.9 1190.8L163.6 1169.8L164.8 1176.2L165.2 1141.1L165.8 1121.7L166.8 1109.0L167.4 1120.7L168.7 1104.4L169.3 1108.9L169.9 1087.6L170.6 1063.7L171.2 1038.4L172.2 1018.5L172.8 991.5L173.8 981.4L174.4 983.7L174.7 1011.9L175.4 1030.8L176.0 1055.6L176.9 1071.3L177.9 1081.3L178.9 1074.6L179.5 1049.4L180.1 1047.8L181.1 1063.7L181.7 1084.0L182.4 1126.5L182.7 1160.6L183.3 1192.4L184.3 1204.6L184.9 1220.7L185.9 1232.1L186.5 1205.2L187.5 1173.6L188.1 1141.2L189.0 1128.6L189.7 1102.1L190.3 1081.1L191.3 1064.4L191.9 1067.7L192.5 1096.6L193.5 1086.6L193.8 1067.1L194.8 1083.0L195.7 1093.5L196.4 1087.4L197.3 1110.8L198.3 1093.7L199.2 1108.0L200.2 1128.7L201.1 1150.9L201.8 1134.0L202.4 1105.7L203.1 1128.9L203.7 1109.3L204.0 1081.2L204.6 1061.6L205.6 1056.9L205.9 1036.1L206.9 1018.6L207.5 1004.7L208.2 974.1L208.8 946.8L209.7 915.4L210.4 897.0L211.7 898.7L212.3 930.1L213.2 934.1L212.9 963.5L214.2 986.8L215.2 995.4L215.5 971.7L217.1 972.1L217.4 998.4L218.0 1023.2L219.0 1049.2L219.6 1081.2L219.9 1113.0L220.3 1145.2L220.9 1182.3L221.2 1213.0L221.5 1242.3L221.8 1258.8L223.1 1257.9L223.8 1236.2L224.1 1204.4L224.7 1170.9L225.4 1122.0L226.0 1089.0L226.9 1071.2L227.9 1064.6L228.9 1088.6L229.8 1089.4L230.1 1064.4L231.1 1045.3L232.0 1026.3L232.7 994.4L233.3 973.7L234.3 971.0L235.4 1007.9L236.4 1023.6L237.6 1019.7L238.6 1004.8L239.6 1020.4L240.5 989.5L241.1 956.6L242.1 951.7L242.7 979.6L243.1 1009.3L244.0 1026.4L244.6 1043.1L245.6 1064.0L246.6 1078.1L247.2 1042.4L247.8 1016.0L249.1 1009.6L250.1 998.5L251.0 1011.5L251.7 1036.0L252.9 1042.5L253.9 1055.2L254.8 1061.7L255.5 1087.6L256.8 1077.5L257.4 1106.6L257.7 1147.4L258.3 1180.6L259.0 1192.9L259.9 1165.1L260.6 1128.5L261.2 1090.7L261.8 1061.5L262.5 1030.9L263.4 1016.1L264.1 1023.4L264.4 1057.2L265.0 1090.5L265.7 1113.0L266.3 1134.5L267.3 1143.9L268.2 1151.7L268.9 1179.0L269.8 1172.9L270.4 1204.4L270.8 1235.6L271.4 1268.6L272.0 1297.4L272.7 1328.3L273.6 1336.0L275.2 1336.0L276.2 1317.8L276.8 1297.4L277.5 1277.0L278.4 1262.3L278.7 1235.3L279.4 1209.7L280.0 1195.4L280.6 1219.7L281.3 1191.0L281.9 1174.5L282.9 1171.0L283.5 1183.2L283.8 1217.5L284.5 1251.3L285.1 1291.8L286.1 1317.9L286.7 1336.0L287.6 1327.6L288.6 1319.5L289.2 1320.2L289.9 1336.0L291.1 1336.0L310.9 1336.0L311.5 1324.3L312.2 1284.1L312.8 1252.1L313.4 1202.4L314.1 1165.2L314.7 1136.3L315.4 1138.7L316.0 1160.4L316.9 1183.0L317.9 1180.7L318.2 1155.7L318.9 1127.0L319.5 1107.2L320.4 1092.2L321.1 1076.0L322.4 1073.0L323.0 1055.2L323.9 1053.0L324.6 1036.4L325.5 1023.4L326.5 1016.5L327.5 1018.5L328.1 1023.4L329.0 1034.9L330.6 1037.7L331.3 1013.9L331.6 980.8L332.2 975.2L333.2 981.6L333.8 1004.5L334.8 1021.3L335.1 1049.5L336.1 1074.5L336.7 1102.9L337.3 1115.0L338.0 1091.4L338.6 1064.8L339.6 1020.4L340.2 978.7L340.8 949.8L341.8 938.9L343.1 937.9L343.7 948.7L344.0 985.0L344.3 1042.9L344.6 1109.3L345.0 1156.0L345.6 1190.7L346.2 1216.8L346.9 1242.9L347.2 1255.1L348.2 1234.4L348.5 1269.1L349.1 1297.2L349.4 1267.4L349.7 1221.3L350.1 1188.2L350.4 1155.2L351.0 1127.0L351.3 1106.5L352.9 1101.2L353.6 1119.5L354.2 1093.3L355.2 1080.8L356.1 1077.0L356.8 1097.0L357.4 1062.2L357.7 1029.2L358.3 991.6L359.0 964.9L359.9 957.3L360.6 979.3L360.9 1003.8L361.8 991.5L362.5 1010.7L363.4 1028.0L364.4 1031.3L365.0 1007.6L365.7 982.3L366.3 960.7L367.3 958.5L368.2 945.6L369.2 937.4L369.8 951.3L370.1 979.3L370.8 1014.0L371.4 1036.5L372.0 1044.4L372.7 1017.3L373.3 1003.0L374.3 981.2L375.2 967.6L375.9 940.6L376.5 943.2L377.1 982.0L377.5 1012.3L378.1 1045.3L378.7 1077.6L379.4 1109.3L379.7 1141.6L380.3 1166.4L381.0 1183.5L381.9 1172.4L382.9 1170.6L383.5 1204.3L384.1 1235.3L384.5 1268.4L385.1 1299.6L385.7 1326.4L386.4 1336.0L388.9 1336.0L389.9 1316.9L390.8 1291.7L391.5 1311.5L392.1 1293.9L393.1 1272.0L394.0 1265.4L394.6 1300.6L395.0 1334.7L396.9 1336.0L397.5 1299.3L398.2 1235.3L398.8 1170.3L399.4 1124.3L400.1 1082.4L400.7 1043.5L401.7 1026.4L402.6 1019.4L403.6 1023.8L404.2 1049.8L404.5 1081.9L405.8 1092.4L406.4 1121.3L407.1 1147.9L407.7 1173.1L408.3 1189.2L409.0 1218.4L409.3 1252.2L409.9 1284.4L410.6 1313.4L411.2 1318.4L411.8 1310.3L412.8 1292.0L413.1 1252.1L413.8 1236.3L414.4 1204.3L415.0 1171.8L416.0 1147.5L417.3 1165.5L417.9 1140.7L418.5 1106.1L419.2 1090.1L420.1 1075.9L421.1 1050.0L422.0 1048.8L422.7 1076.8L423.6 1108.5L424.3 1129.0L425.1 1127.5L426.4 1108.0L427.0 1088.8L427.6 1064.5L428.3 1031.5L428.9 1014.3L429.6 991.0L430.5 969.4L431.5 961.8L432.4 959.4L433.1 969.7L433.7 990.9L434.3 1013.4L435.3 1028.0L436.2 1034.6L437.2 1036.9L438.2 1032.5L439.1 1031.3L440.1 1045.9L441.0 1051.0L441.3 1076.8L441.7 1106.0L442.3 1141.2L442.6 1170.7L443.2 1202.9L443.9 1237.1L444.5 1258.8L445.2 1233.8L445.5 1203.0L445.8 1170.7L446.4 1132.2L447.1 1106.2L447.7 1088.7L448.3 1085.6L449.3 1093.9L449.9 1121.1L450.6 1106.6L451.2 1082.1L451.8 1042.7L452.5 1018.0L453.1 998.9L454.1 992.8L454.7 1014.2L455.4 1036.1L456.3 1051.2L457.3 1064.9L457.9 1087.5L458.5 1107.7L459.2 1123.3L459.8 1094.7L460.4 1075.4L461.4 1072.9L462.0 1097.2L462.7 1113.1L463.3 1087.8L463.9 1063.3L464.6 1044.1L465.2 1040.4L466.2 1046.0L466.8 1024.2L467.5 1008.6L468.4 1026.8L469.0 1038.8L470.0 1038.6L471.0 1058.1L471.9 1065.6L472.9 1074.2L473.8 1063.4L474.8 1057.4L475.7 1049.1L476.7 1053.1L477.3 1075.0L478.0 1088.4L478.6 1107.4L479.2 1128.7L479.9 1141.2L480.8 1131.2L481.8 1145.2L482.7 1150.1L483.7 1158.6L484.0 1186.3L484.6 1198.8L485.3 1213.9L485.9 1215.5L486.6 1199.5L487.5 1177.3L488.5 1162.9L489.4 1152.5L490.1 1171.8L490.7 1190.9L491.3 1217.7L492.3 1230.6L493.2 1242.9L493.9 1220.7L494.2 1195.4L494.8 1173.5L495.5 1146.3L495.8 1119.4L496.4 1099.7L497.4 1108.1L498.0 1118.4L498.7 1105.9L499.6 1093.4L500.6 1092.5L501.2 1107.6L502.2 1115.7L502.8 1126.9L503.8 1118.9L504.7 1120.5L505.4 1138.5L506.0 1162.0L506.6 1182.8L507.3 1202.7L508.2 1210.9L509.2 1217.8L510.1 1225.8L511.1 1237.2L511.7 1269.1L512.4 1299.0L513.0 1324.7L513.6 1336.0L514.9 1336.0L515.5 1325.9L516.2 1299.6L516.8 1261.5L517.5 1234.0L518.1 1218.2L519.0 1228.0L519.7 1211.7L520.6 1201.8L521.3 1220.9L521.6 1250.4L522.2 1271.9L522.9 1296.7L523.5 1299.5L524.1 1315.4L525.1 1334.0L529.6 1336.0L530.2 1324.1L530.5 1299.6L530.8 1267.4L531.1 1236.2L531.5 1205.3L532.1 1173.2L532.7 1151.2L533.4 1159.7L534.0 1185.8L534.6 1214.0L535.3 1229.9L535.9 1241.6L536.6 1262.0L537.5 1277.2L538.5 1294.0L539.1 1299.1L539.4 1281.9L539.7 1250.7L540.4 1217.8L541.0 1189.0L541.7 1165.1L542.3 1138.9L542.9 1119.3L543.6 1099.1L544.8 1099.2L545.5 1106.9L546.1 1126.5L547.1 1140.6L548.0 1157.5L549.0 1160.4L549.9 1179.5L550.9 1194.0L551.8 1207.3L552.5 1191.5L553.1 1170.7L553.8 1157.0L554.7 1140.7L555.7 1120.1L556.3 1102.3L556.9 1075.9L557.6 1051.0L558.2 1032.8L558.9 1013.7L559.8 999.2L560.8 1001.2L561.4 1012.4L562.0 1007.1L563.0 1010.8L563.9 1031.1L564.9 1012.6L565.9 997.9L566.8 1004.0L567.8 1007.6L568.7 990.7L569.7 990.1L570.6 999.1L571.6 995.8L572.5 1002.6L573.5 1010.9L574.5 1017.8L575.1 1031.8L576.1 1015.9L577.0 1005.9L578.0 993.8L578.6 978.0L579.6 967.9L580.8 964.9L581.8 966.0L582.4 982.0L583.1 999.6L583.7 996.0L584.3 1004.6L585.3 1019.9L585.9 1036.2L586.6 1013.4L587.2 980.9L587.8 948.9L588.5 921.4L589.4 913.9L590.4 915.4L590.7 944.2L591.3 963.3L592.0 979.7L592.6 1004.5L593.2 1031.6L593.9 1043.9L594.5 1058.9L595.8 1057.4L596.1 1080.8L596.8 1100.3L597.4 1106.5L598.3 1128.4L599.3 1134.4L601.0 1141.3L601.9 1166.6L602.5 1190.6L603.2 1204.3L603.8 1189.0L604.5 1170.7L605.4 1177.4L606.1 1157.8L607.0 1139.9L607.6 1136.4L608.6 1151.2L609.2 1161.0L610.2 1150.4L611.1 1145.1L611.8 1164.7L612.4 1191.5L613.1 1220.9L613.7 1229.9L614.0 1247.5L614.6 1266.4L615.3 1287.8L615.9 1300.7L616.6 1308.5L617.2 1298.7L617.8 1312.2L618.5 1336.0L619.1 1336.0L619.7 1324.1L620.1 1307.3L620.7 1293.4L621.3 1299.2L621.7 1265.4L622.0 1234.7L622.3 1202.0L622.6 1171.7L622.9 1140.8L623.9 1137.6L624.8 1131.6L625.8 1127.8L626.4 1121.4L627.1 1109.8L627.7 1095.2L628.3 1091.3L629.3 1090.7L629.9 1108.9L630.6 1129.6L630.9 1157.2L631.5 1191.8L632.2 1221.2L632.8 1204.1L633.4 1171.9L634.1 1139.1L634.7 1128.2L635.4 1106.8L636.0 1081.5L636.9 1071.3L637.6 1090.0L637.9 1125.2L638.5 1172.4L639.2 1202.2L639.8 1230.0L640.4 1238.0L641.1 1215.2L642.0 1210.7L642.7 1201.7L643.3 1171.6L643.9 1141.0L644.6 1115.4L645.2 1101.9L645.9 1094.5L646.5 1074.3L647.1 1052.0L647.8 1025.5L648.4 1007.2L649.0 991.4L649.7 1007.4L650.3 982.3L651.0 956.8L651.9 945.9L653.2 941.7L654.1 942.4L654.8 963.7L655.1 1010.4L655.4 1074.4L655.7 1140.5L656.1 1204.7L656.4 1265.4L656.7 1335.0L659.9 1336.0L660.5 1326.3L661.1 1298.4L661.5 1267.6L661.8 1235.8L662.1 1204.1L662.7 1172.9L663.4 1141.7L664.0 1127.9L664.6 1108.5L665.3 1093.4L665.9 1103.0L666.6 1087.0L667.2 1070.9L668.2 1073.5L669.1 1074.8L669.7 1068.4L670.7 1066.8L672.0 1068.9L672.6 1076.2L672.9 1102.1L673.6 1112.6L674.5 1096.4L675.5 1102.1L676.1 1115.9L676.4 1090.7L676.8 1051.0L677.4 1011.2L678.0 979.5L678.7 963.2L679.6 961.7L680.3 982.3L680.6 1010.7L680.9 1045.2L681.8 1030.5L682.8 1017.2L683.8 1013.0L684.7 1003.7L685.4 996.2L686.0 1011.9L686.9 1019.7L687.9 1014.7L688.9 1022.7L689.8 1021.2L690.8 1027.1L691.7 1028.9L692.7 1029.9L693.6 1037.3L694.6 1042.5L695.5 1052.5L696.5 1058.0L697.5 1063.4L698.4 1067.9L699.0 1075.9L699.4 1044.7L699.7 1013.4L700.3 1001.5L701.3 1006.0L701.9 1013.9L702.5 1013.6L703.5 1001.6L704.5 992.3L705.1 1004.7L705.7 1017.7L706.4 1034.3L707.0 1044.9L707.6 1054.5L708.3 1038.4L708.9 1033.6L709.9 1034.8L710.5 1045.4L711.5 1040.1L711.8 1064.3L712.1 1090.5L712.7 1116.1L713.4 1126.8L714.3 1122.9L715.3 1118.8L716.2 1122.3L717.2 1129.9L718.2 1134.3L718.8 1157.3L719.4 1179.6L720.1 1197.1L720.7 1215.4L721.0 1256.2L722.0 1252.3L722.9 1232.5L724.2 1247.6L725.2 1266.5L726.1 1291.7L726.8 1310.4L727.4 1330.2L728.0 1336.0L733.1 1336.0L733.8 1331.1L735.0 1336.0L742.0 1336.0L742.4 1324.2L742.7 1299.5L743.0 1266.2L743.3 1242.9L743.9 1225.2L744.9 1226.8L745.5 1254.2L746.2 1233.8L746.8 1215.9L747.5 1197.8L748.1 1184.8L749.0 1174.5L749.7 1190.7L750.3 1204.5L751.3 1199.1L751.6 1222.0L752.2 1242.9L752.9 1265.6L753.5 1286.4L754.1 1304.1L754.8 1315.2L755.4 1297.4L755.7 1269.0L756.4 1252.1L757.0 1246.4L757.6 1239.7L758.6 1230.3L759.6 1222.3L760.2 1208.1L761.1 1210.3L761.8 1235.5L762.1 1213.2L762.4 1191.7L763.1 1176.9L763.7 1168.3L764.6 1173.2L765.3 1182.4L766.2 1180.7L766.9 1191.8L767.5 1204.0L768.2 1220.8L768.8 1223.7L769.4 1236.3L770.1 1247.7L770.7 1266.6L771.3 1287.4L772.0 1300.9L772.6 1315.0L772.9 1298.3L773.2 1268.4L773.5 1236.1L773.8 1204.6L774.1 1170.5L774.8 1139.6L775.4 1109.7L776.1 1090.4L776.7 1070.1L777.3 1082.3L778.3 1089.9L779.2 1087.3L779.9 1077.4L780.5 1083.3L781.1 1076.4L782.1 1073.8L782.7 1057.7L783.4 1039.3L784.3 1045.0L785.3 1063.1L785.9 1068.7L786.6 1057.3L787.5 1049.2L788.5 1042.3L789.4 1041.6L790.4 1032.7L791.3 1021.0L792.3 1013.6L793.2 1011.2L794.5 1004.4L795.5 1019.1L796.1 1023.9L796.8 1031.9L797.4 1049.1L798.0 1025.3L798.7 1051.9L799.3 1079.6L799.9 1056.8L800.6 1037.3L801.2 1020.3L801.8 1016.6L802.8 1018.3L803.4 1035.2L804.4 1021.9L805.4 1036.1L806.0 1064.2L806.6 1076.0L807.6 1080.8L808.5 1088.8L809.5 1076.1L810.4 1062.1L811.4 1055.1L812.0 1039.1L812.7 1013.9L813.3 993.1L814.3 991.4L814.9 1018.8L815.5 1039.6L816.2 1061.7L816.8 1092.4L817.5 1119.1L818.1 1132.9L818.7 1154.4L819.4 1173.0L820.0 1183.2L820.6 1166.4L821.3 1140.2L821.6 1112.9L822.2 1087.5L822.9 1058.2L823.5 1032.6L824.1 1012.8L824.8 999.6L825.7 996.9L826.7 982.0L827.3 972.0L828.3 966.3L829.2 967.8L830.2 979.2L831.1 967.6L832.1 954.0L833.1 950.5L833.7 960.1L834.6 969.3L835.6 970.6L836.6 980.3L837.5 983.2L838.5 994.0L839.1 996.1" clip-path="url(#k9)" fill="none" stroke="#05216c" stroke-width="3.0" stroke-linejoin="round" stroke-linecap="round"/>
<text x="488.0" y="965.0" font-size="12.5" fill="#12a6e4" text-anchor="middle" textLength="45.0" lengthAdjust="spacingAndGlyphs">Extreme</text>
<text x="489.0" y="979.5" font-size="12.5" fill="#12a6e4" text-anchor="middle" textLength="20.0" lengthAdjust="spacingAndGlyphs">Bull</text>
<text x="576.0" y="1266.8" font-size="12.5" fill="#12a6e4" text-anchor="middle" textLength="45.0" lengthAdjust="spacingAndGlyphs">Extreme</text>
<text x="575.7" y="1280.9" font-size="12.5" fill="#12a6e4" text-anchor="middle" textLength="24.0" lengthAdjust="spacingAndGlyphs">Bear</text>
<text x="575.1" y="906.9" font-size="12.5" fill="#c00d1e" textLength="36.0" lengthAdjust="spacingAndGlyphs">Feb'18</text>
<ellipse cx="589.6" cy="916.6" rx="9.4" ry="5.4" fill="none" stroke="#c00d1e" stroke-width="2.1"/>
<text x="546.1" y="955.7" font-size="12.5" fill="#c00d1e" textLength="34.3" lengthAdjust="spacingAndGlyphs">Oct'17</text>
<ellipse cx="580.4" cy="966.4" rx="7.4" ry="5.9" fill="none" stroke="#c00d1e" stroke-width="2.1"/>
<text x="634.4" y="928.9" font-size="12.5" fill="#c00d1e" textLength="36.0" lengthAdjust="spacingAndGlyphs">Feb'20</text>
<ellipse cx="652.5" cy="943.8" rx="8.4" ry="6.8" fill="none" stroke="#c00d1e" stroke-width="2.1"/>
<text x="676.0" y="953.8" font-size="12.5" fill="#c00d1e" textLength="36.8" lengthAdjust="spacingAndGlyphs">Dec'20</text>
<ellipse cx="679.6" cy="961.7" rx="9.5" ry="5.3" fill="none" stroke="#c00d1e" stroke-width="2.1"/>
<text x="816.3" y="940.8" font-size="12.5" fill="#c00d1e" textLength="35.1" lengthAdjust="spacingAndGlyphs">Oct'25</text>
<ellipse cx="834.4" cy="949.0" rx="8.3" ry="5.0" fill="none" stroke="#c00d1e" stroke-width="2.1"/>
<text x="577.4" y="1327.7" font-size="12.5" fill="#c00d1e" textLength="32.8" lengthAdjust="spacingAndGlyphs">Jan'19</text>
<ellipse cx="616.1" cy="1334.7" rx="7.6" ry="4.7" fill="none" stroke="#c00d1e" stroke-width="2.1"/>
<text x="621.0" y="1326.8" font-size="12.5" fill="#c00d1e" textLength="36.2" lengthAdjust="spacingAndGlyphs">Mar'20</text>
<ellipse cx="654.2" cy="1333.5" rx="7.4" ry="4.5" fill="none" stroke="#c00d1e" stroke-width="2.1"/>
<text x="684.2" y="1326.6" font-size="12.5" fill="#c00d1e" textLength="38.3" lengthAdjust="spacingAndGlyphs">May'22</text>
<ellipse cx="723.7" cy="1335.8" rx="7.4" ry="4.6" fill="none" stroke="#c00d1e" stroke-width="2.1"/>
<text x="751.4" y="1333.9" font-size="12.5" fill="#c00d1e" textLength="36.3" lengthAdjust="spacingAndGlyphs">Mar'23</text>
<ellipse cx="751.6" cy="1316.3" rx="7.2" ry="4.4" fill="none" stroke="#c00d1e" stroke-width="2.1"/>
<text x="783.9" y="1314.7" font-size="12.5" fill="#c00d1e" textLength="34.5" lengthAdjust="spacingAndGlyphs">Oct'23</text>
<ellipse cx="773.3" cy="1313.3" rx="7.6" ry="4.7" fill="none" stroke="#c00d1e" stroke-width="2.1"/>
<text x="48" y="1394.5" font-size="23.5" fill="#000" textLength="786.0" lengthAdjust="spacingAndGlyphs"><tspan font-weight="bold" stroke="#000" stroke-width="0.35">Source:</tspan> BofA Global Investment Strategy, ICE Data Indices LLC, Bloomberg, EPFR, Global Fund</text>
<text x="48.0" y="1425.0" font-size="23.5" fill="#000" textLength="140.0" lengthAdjust="spacingAndGlyphs">Manager Survey.</text>
<text x="670.5" y="1454.5" font-size="24" fill="#6e6e6e" textLength="210.0" lengthAdjust="spacingAndGlyphs">BofA GLOBAL RESEARCH</text>
<rect x="1009" y="776" width="15" height="77.5" fill="#0a51c6"/>
<text x="1040.0" y="809.8" font-size="29" fill="#000" font-weight="bold" textLength="814.0" lengthAdjust="spacingAndGlyphs" stroke="#000" stroke-width="0.55">Chart 10: BofA Bull &amp; Bear Indicator remains our flagship trading rule</text>
<text x="1040.0" y="846.0" font-size="29.5" fill="#000" textLength="833.0" lengthAdjust="spacingAndGlyphs">New B&amp;B Indicator and MSCI ACWI vs US Treasury index annual performance</text>
<text x="1067.2" y="1295.1" font-size="21" fill="#222" text-anchor="end" textLength="9.8" lengthAdjust="spacingAndGlyphs">0</text>
<text x="1067.2" y="1258.2" font-size="21" fill="#222" text-anchor="end" textLength="9.8" lengthAdjust="spacingAndGlyphs">1</text>
<text x="1067.2" y="1221.3" font-size="21" fill="#222" text-anchor="end" textLength="9.8" lengthAdjust="spacingAndGlyphs">2</text>
<text x="1067.2" y="1184.4" font-size="21" fill="#222" text-anchor="end" textLength="9.8" lengthAdjust="spacingAndGlyphs">3</text>
<text x="1067.2" y="1147.5" font-size="21" fill="#222" text-anchor="end" textLength="9.8" lengthAdjust="spacingAndGlyphs">4</text>
<text x="1067.2" y="1110.6" font-size="21" fill="#222" text-anchor="end" textLength="9.8" lengthAdjust="spacingAndGlyphs">5</text>
<text x="1067.2" y="1073.8" font-size="21" fill="#222" text-anchor="end" textLength="9.8" lengthAdjust="spacingAndGlyphs">6</text>
<text x="1067.2" y="1036.9" font-size="21" fill="#222" text-anchor="end" textLength="9.8" lengthAdjust="spacingAndGlyphs">7</text>
<text x="1067.2" y="1000.0" font-size="21" fill="#222" text-anchor="end" textLength="9.8" lengthAdjust="spacingAndGlyphs">8</text>
<text x="1067.2" y="963.1" font-size="21" fill="#222" text-anchor="end" textLength="9.8" lengthAdjust="spacingAndGlyphs">9</text>
<text x="1067.2" y="926.2" font-size="21" fill="#222" text-anchor="end" textLength="19.8" lengthAdjust="spacingAndGlyphs">10</text>
<text x="1829.0" y="1295.4" font-size="21" fill="#222" textLength="42.0" lengthAdjust="spacingAndGlyphs">-60%</text>
<text x="1829.0" y="1242.7" font-size="21" fill="#222" textLength="42.0" lengthAdjust="spacingAndGlyphs">-40%</text>
<text x="1829.0" y="1190.0" font-size="21" fill="#222" textLength="42.0" lengthAdjust="spacingAndGlyphs">-20%</text>
<text x="1830.0" y="1137.3" font-size="21" fill="#222" textLength="22.0" lengthAdjust="spacingAndGlyphs">0%</text>
<text x="1830.0" y="1084.6" font-size="21" fill="#222" textLength="35.0" lengthAdjust="spacingAndGlyphs">20%</text>
<text x="1830.0" y="1032.0" font-size="21" fill="#222" textLength="35.0" lengthAdjust="spacingAndGlyphs">40%</text>
<text x="1830.0" y="979.3" font-size="21" fill="#222" textLength="35.0" lengthAdjust="spacingAndGlyphs">60%</text>
<text x="1830.0" y="926.6" font-size="21" fill="#222" textLength="35.0" lengthAdjust="spacingAndGlyphs">80%</text>
<text x="1085.0" y="1318.0" font-size="21" fill="#222" text-anchor="middle" textLength="24.0" lengthAdjust="spacingAndGlyphs">'02</text>
<text x="1115.2" y="1318.0" font-size="21" fill="#222" text-anchor="middle" textLength="24.0" lengthAdjust="spacingAndGlyphs">'03</text>
<text x="1145.4" y="1318.0" font-size="21" fill="#222" text-anchor="middle" textLength="24.0" lengthAdjust="spacingAndGlyphs">'04</text>
<text x="1175.6" y="1318.0" font-size="21" fill="#222" text-anchor="middle" textLength="24.0" lengthAdjust="spacingAndGlyphs">'05</text>
<text x="1205.8" y="1318.0" font-size="21" fill="#222" text-anchor="middle" textLength="24.0" lengthAdjust="spacingAndGlyphs">'06</text>
<text x="1236.0" y="1318.0" font-size="21" fill="#222" text-anchor="middle" textLength="24.0" lengthAdjust="spacingAndGlyphs">'07</text>
<text x="1266.2" y="1318.0" font-size="21" fill="#222" text-anchor="middle" textLength="24.0" lengthAdjust="spacingAndGlyphs">'08</text>
<text x="1296.4" y="1318.0" font-size="21" fill="#222" text-anchor="middle" textLength="24.0" lengthAdjust="spacingAndGlyphs">'09</text>
<text x="1326.6" y="1318.0" font-size="21" fill="#222" text-anchor="middle" textLength="24.0" lengthAdjust="spacingAndGlyphs">'10</text>
<text x="1356.8" y="1318.0" font-size="21" fill="#222" text-anchor="middle" textLength="24.0" lengthAdjust="spacingAndGlyphs">'11</text>
<text x="1387.0" y="1318.0" font-size="21" fill="#222" text-anchor="middle" textLength="24.0" lengthAdjust="spacingAndGlyphs">'12</text>
<text x="1417.2" y="1318.0" font-size="21" fill="#222" text-anchor="middle" textLength="24.0" lengthAdjust="spacingAndGlyphs">'13</text>
<text x="1447.4" y="1318.0" font-size="21" fill="#222" text-anchor="middle" textLength="24.0" lengthAdjust="spacingAndGlyphs">'14</text>
<text x="1477.6" y="1318.0" font-size="21" fill="#222" text-anchor="middle" textLength="24.0" lengthAdjust="spacingAndGlyphs">'15</text>
<text x="1507.8" y="1318.0" font-size="21" fill="#222" text-anchor="middle" textLength="24.0" lengthAdjust="spacingAndGlyphs">'16</text>
<text x="1538.0" y="1318.0" font-size="21" fill="#222" text-anchor="middle" textLength="24.0" lengthAdjust="spacingAndGlyphs">'17</text>
<text x="1568.2" y="1318.0" font-size="21" fill="#222" text-anchor="middle" textLength="24.0" lengthAdjust="spacingAndGlyphs">'18</text>
<text x="1598.4" y="1318.0" font-size="21" fill="#222" text-anchor="middle" textLength="24.0" lengthAdjust="spacingAndGlyphs">'19</text>
<text x="1628.6" y="1318.0" font-size="21" fill="#222" text-anchor="middle" textLength="24.0" lengthAdjust="spacingAndGlyphs">'20</text>
<text x="1658.8" y="1318.0" font-size="21" fill="#222" text-anchor="middle" textLength="24.0" lengthAdjust="spacingAndGlyphs">'21</text>
<text x="1689.0" y="1318.0" font-size="21" fill="#222" text-anchor="middle" textLength="24.0" lengthAdjust="spacingAndGlyphs">'22</text>
<text x="1719.2" y="1318.0" font-size="21" fill="#222" text-anchor="middle" textLength="24.0" lengthAdjust="spacingAndGlyphs">'23</text>
<text x="1749.4" y="1318.0" font-size="21" fill="#222" text-anchor="middle" textLength="24.0" lengthAdjust="spacingAndGlyphs">'24</text>
<text x="1779.6" y="1318.0" font-size="21" fill="#222" text-anchor="middle" textLength="24.0" lengthAdjust="spacingAndGlyphs">'25</text>
<text x="1809.8" y="1318.0" font-size="21" fill="#222" text-anchor="middle" textLength="24.0" lengthAdjust="spacingAndGlyphs">'26</text>
<line x1="1148" y1="901.5" x2="1189.5" y2="901.5" stroke="#05216c" stroke-width="4.4" stroke-linecap="round"/>
<text x="1195.0" y="908.0" font-size="19" fill="#111" textLength="198.0" lengthAdjust="spacingAndGlyphs">BofA Bull &amp; Bear Indicator</text>
<line x1="1450.5" y1="901.5" x2="1494" y2="901.5" stroke="#1bb3f0" stroke-width="4.4" stroke-linecap="round"/>
<text x="1497.0" y="908.0" font-size="19" fill="#111" textLength="295.0" lengthAdjust="spacingAndGlyphs" xml:space="preserve">ACWI vs UST return relative YoY  (RHS)</text>
<path d="M1092.0 1095.2L1092.6 1071.1L1093.3 1036.9L1093.9 1027.2L1094.8 994.3L1095.7 1011.5L1095.4 1038.9L1096.3 1045.2L1097.2 1059.8L1098.4 1077.4L1099.3 1086.8L1099.0 1108.1L1099.9 1114.7L1100.2 1145.7L1100.5 1163.1L1101.4 1173.5L1102.0 1205.3L1102.6 1244.1L1103.3 1256.4L1102.9 1288.7L1112.3 1289.0L1112.6 1269.0L1113.6 1221.5L1114.2 1205.9L1114.8 1235.3L1115.4 1199.7L1116.3 1190.8L1117.2 1191.7L1117.5 1210.4L1117.2 1235.4L1118.4 1256.3L1119.0 1288.7L1119.9 1273.5L1120.8 1289.0L1122.0 1289.0L1122.9 1271.1L1123.5 1229.9L1123.8 1192.5L1124.8 1173.2L1125.4 1144.9L1126.3 1124.3L1126.6 1084.5L1127.5 1081.0L1128.1 1116.2L1128.7 1098.0L1129.3 1058.8L1129.9 1032.9L1130.5 1044.6L1131.1 1064.9L1131.7 1054.4L1132.3 1037.2L1133.2 1039.0L1133.5 1081.9L1134.1 1130.5L1134.8 1154.8L1135.4 1113.6L1135.7 1075.0L1136.0 1052.9L1137.2 1054.5L1137.5 1077.4L1138.1 1070.0L1138.4 1037.5L1138.7 1016.7L1139.3 980.9L1140.2 990.8L1141.1 1016.3L1142.0 1014.0L1142.9 1004.7L1143.8 1011.8L1145.1 1021.2L1145.4 988.7L1146.3 944.8L1147.5 930.8L1148.7 932.8L1149.0 962.8L1149.6 981.7L1150.5 975.2L1151.7 983.8L1152.3 1007.0L1152.9 1048.2L1153.8 1024.5L1154.4 1005.2L1155.4 1017.1L1156.0 1050.2L1156.3 1082.5L1157.2 1120.2L1157.8 1149.9L1158.7 1173.5L1159.3 1205.2L1159.9 1218.1L1160.5 1232.6L1160.8 1205.8L1161.4 1177.8L1161.7 1196.2L1162.0 1149.6L1162.6 1123.0L1162.9 1109.5L1163.8 1138.2L1164.4 1124.3L1165.4 1140.6L1166.3 1167.0L1166.9 1149.3L1168.1 1154.7L1168.4 1125.1L1169.0 1108.9L1169.9 1098.2L1170.5 1108.1L1171.7 1094.3L1172.3 1098.1L1172.9 1080.2L1173.5 1060.1L1174.1 1038.8L1175.0 1022.1L1175.6 999.4L1176.6 990.9L1177.2 992.8L1177.5 1016.6L1178.1 1032.5L1178.7 1053.3L1179.6 1066.5L1180.5 1075.0L1181.4 1069.3L1182.0 1048.1L1182.6 1046.8L1183.5 1060.2L1184.1 1077.2L1184.7 1112.9L1185.0 1141.6L1185.6 1168.3L1186.6 1178.6L1187.2 1192.1L1188.1 1201.7L1188.7 1179.1L1189.6 1152.5L1190.2 1125.2L1191.1 1114.7L1191.7 1092.4L1192.3 1074.8L1193.2 1060.7L1193.8 1063.5L1194.4 1087.8L1195.3 1079.4L1195.6 1063.0L1196.6 1076.3L1197.5 1085.2L1198.1 1080.1L1199.0 1099.7L1199.9 1085.4L1200.8 1097.4L1201.7 1114.7L1202.6 1133.4L1203.2 1119.2L1203.8 1095.4L1204.4 1114.9L1205.0 1098.4L1205.3 1074.8L1205.9 1058.3L1206.9 1054.4L1207.2 1036.9L1208.1 1022.2L1208.7 1010.5L1209.3 984.8L1209.9 961.9L1210.8 935.5L1211.4 920.0L1212.6 921.4L1213.2 947.8L1214.1 951.2L1213.8 975.9L1215.0 995.5L1215.9 1002.7L1216.2 982.8L1217.8 983.1L1218.1 1005.2L1218.7 1026.1L1219.6 1047.9L1220.2 1074.9L1220.5 1101.6L1220.8 1128.6L1221.4 1159.8L1221.7 1185.6L1222.0 1210.2L1222.3 1224.1L1223.5 1223.3L1224.1 1205.1L1224.4 1178.4L1225.0 1150.2L1225.6 1109.2L1226.2 1081.4L1227.1 1066.4L1228.1 1060.9L1229.0 1081.1L1229.9 1081.7L1230.2 1060.7L1231.1 1044.7L1232.0 1028.7L1232.6 1001.9L1233.2 984.5L1234.1 982.2L1235.2 1013.2L1236.1 1026.4L1237.3 1023.2L1238.2 1010.6L1239.1 1023.7L1240.1 997.7L1240.7 970.1L1241.6 966.0L1242.2 989.4L1242.5 1014.4L1243.4 1028.8L1244.0 1042.8L1244.9 1060.4L1245.8 1072.2L1246.4 1042.2L1247.0 1020.0L1248.2 1014.6L1249.1 1005.3L1250.0 1016.2L1250.7 1036.8L1251.9 1042.3L1252.8 1052.9L1253.7 1058.5L1254.3 1080.2L1255.5 1071.7L1256.1 1096.2L1256.4 1130.5L1257.0 1158.3L1257.6 1168.7L1258.5 1145.3L1259.1 1114.6L1259.7 1082.8L1260.3 1058.3L1261.0 1032.6L1261.9 1020.1L1262.5 1026.3L1262.8 1054.7L1263.4 1082.7L1264.0 1101.6L1264.6 1119.7L1265.5 1127.6L1266.4 1134.1L1267.0 1157.0L1267.9 1151.9L1268.5 1178.4L1268.8 1204.6L1269.4 1232.4L1270.0 1256.5L1270.6 1282.5L1271.6 1289.0L1273.1 1289.0L1274.0 1273.7L1274.6 1256.6L1275.2 1239.4L1276.1 1227.1L1276.4 1204.4L1277.0 1182.9L1277.6 1170.8L1278.2 1191.2L1278.8 1167.1L1279.4 1153.2L1280.3 1150.3L1280.9 1160.5L1281.2 1189.4L1281.9 1217.8L1282.5 1251.8L1283.4 1273.8L1284.0 1289.0L1284.9 1281.9L1285.8 1275.1L1286.4 1275.7L1287.0 1289.0L1288.2 1289.0L1307.0 1289.0L1307.6 1279.1L1308.2 1245.4L1308.8 1218.5L1309.4 1176.7L1310.0 1145.5L1310.6 1121.2L1311.2 1123.2L1311.8 1141.4L1312.8 1160.4L1313.7 1158.5L1314.0 1137.4L1314.6 1113.3L1315.2 1096.7L1316.1 1084.1L1316.7 1070.4L1317.9 1067.9L1318.5 1053.0L1319.4 1051.1L1320.0 1037.2L1320.9 1026.2L1321.8 1020.5L1322.7 1022.1L1323.4 1026.2L1324.3 1035.9L1325.8 1038.3L1326.4 1018.2L1326.7 990.4L1327.3 985.8L1328.2 991.1L1328.8 1010.4L1329.7 1024.5L1330.0 1048.2L1330.9 1069.2L1331.5 1093.1L1332.1 1103.3L1332.7 1083.4L1333.4 1061.0L1334.3 1023.7L1334.9 988.7L1335.5 964.4L1336.4 955.3L1337.6 954.4L1338.2 963.5L1338.5 993.9L1338.8 1042.7L1339.1 1098.4L1339.4 1137.7L1340.0 1166.8L1340.6 1188.8L1341.2 1210.7L1341.5 1221.0L1342.4 1203.6L1342.7 1232.7L1343.3 1256.4L1343.7 1231.3L1344.0 1192.6L1344.3 1164.8L1344.6 1137.0L1345.2 1113.3L1345.5 1096.1L1347.0 1091.7L1347.6 1107.0L1348.2 1085.0L1349.1 1074.5L1350.0 1071.3L1350.6 1088.1L1351.2 1058.9L1351.5 1031.1L1352.1 999.5L1352.7 977.1L1353.6 970.7L1354.3 989.2L1354.6 1009.8L1355.5 999.4L1356.1 1015.6L1357.0 1030.1L1357.9 1032.9L1358.5 1013.0L1359.1 991.7L1359.7 973.5L1360.6 971.7L1361.5 960.9L1362.4 954.0L1363.0 965.7L1363.3 989.2L1363.9 1018.4L1364.6 1037.2L1365.2 1043.9L1365.8 1021.1L1366.4 1009.1L1367.3 990.8L1368.2 979.3L1368.8 956.7L1369.4 958.9L1370.0 991.5L1370.3 1016.9L1370.9 1044.6L1371.5 1071.8L1372.1 1098.4L1372.4 1125.6L1373.0 1146.5L1373.6 1160.8L1374.5 1151.5L1375.5 1150.0L1376.1 1178.3L1376.7 1204.4L1377.0 1232.2L1377.6 1258.4L1378.2 1280.9L1378.8 1289.0L1381.2 1289.0L1382.1 1272.9L1383.0 1251.8L1383.6 1268.4L1384.2 1253.6L1385.2 1235.2L1386.1 1229.7L1386.7 1259.2L1387.0 1287.9L1388.8 1289.0L1389.4 1258.1L1390.0 1204.4L1390.6 1149.7L1391.2 1111.0L1391.8 1075.9L1392.4 1043.1L1393.3 1028.8L1394.2 1022.9L1395.1 1026.6L1395.8 1048.4L1396.1 1075.4L1397.3 1084.2L1397.9 1108.5L1398.5 1130.9L1399.1 1152.1L1399.7 1165.6L1400.3 1190.2L1400.6 1218.6L1401.2 1245.6L1401.8 1270.0L1402.4 1274.2L1403.0 1267.4L1403.9 1252.0L1404.2 1218.5L1404.8 1205.2L1405.4 1178.3L1406.1 1151.0L1407.0 1130.6L1408.2 1145.7L1408.8 1124.9L1409.4 1095.8L1410.0 1082.3L1410.9 1070.4L1411.8 1048.6L1412.7 1047.6L1413.3 1071.2L1414.2 1097.8L1414.8 1115.0L1415.6 1113.8L1416.8 1097.4L1417.4 1081.2L1418.0 1060.8L1418.7 1033.0L1419.3 1018.6L1419.9 999.0L1420.8 980.9L1421.7 974.5L1422.6 972.5L1423.2 981.1L1423.8 998.9L1424.4 1017.9L1425.3 1030.1L1426.2 1035.6L1427.1 1037.6L1428.0 1033.9L1429.0 1032.9L1429.9 1045.2L1430.8 1049.5L1431.1 1071.1L1431.4 1095.7L1432.0 1125.2L1432.3 1150.1L1432.9 1177.1L1433.5 1205.9L1434.1 1224.1L1434.7 1203.1L1435.0 1177.2L1435.3 1150.1L1435.9 1117.7L1436.5 1095.8L1437.1 1081.2L1437.7 1078.5L1438.6 1085.5L1439.3 1108.3L1439.9 1096.2L1440.5 1075.6L1441.1 1042.5L1441.7 1021.7L1442.3 1005.6L1443.2 1000.5L1443.8 1018.5L1444.4 1036.9L1445.3 1049.6L1446.2 1061.1L1446.8 1080.1L1447.4 1097.1L1448.0 1110.3L1448.6 1086.2L1449.3 1069.9L1450.2 1067.9L1450.8 1088.2L1451.4 1101.7L1452.0 1080.4L1452.6 1059.8L1453.2 1043.6L1453.8 1040.6L1454.7 1045.2L1455.3 1026.9L1455.9 1013.8L1456.8 1029.1L1457.4 1039.2L1458.3 1039.0L1459.2 1055.4L1460.2 1061.7L1461.1 1068.9L1462.0 1059.8L1462.9 1054.9L1463.8 1047.8L1464.7 1051.2L1465.3 1069.6L1465.9 1080.8L1466.5 1096.8L1467.1 1114.8L1467.7 1125.2L1468.6 1116.9L1469.5 1128.6L1470.5 1132.7L1471.4 1139.9L1471.7 1163.2L1472.3 1173.7L1472.9 1186.4L1473.5 1187.7L1474.1 1174.3L1475.0 1155.6L1475.9 1143.5L1476.8 1134.7L1477.4 1151.0L1478.0 1167.0L1478.6 1189.6L1479.5 1200.4L1480.5 1210.7L1481.1 1192.1L1481.4 1170.8L1482.0 1152.4L1482.6 1129.6L1482.9 1106.9L1483.5 1090.4L1484.4 1097.5L1485.0 1106.1L1485.6 1095.6L1486.5 1085.1L1487.4 1084.3L1488.0 1097.0L1488.9 1103.8L1489.5 1113.3L1490.4 1106.5L1491.4 1107.9L1492.0 1123.0L1492.6 1142.8L1493.2 1160.3L1493.8 1176.9L1494.7 1183.8L1495.6 1189.7L1496.5 1196.4L1497.4 1206.0L1498.0 1232.8L1498.6 1257.9L1499.2 1279.5L1499.8 1289.0L1501.1 1289.0L1501.7 1280.5L1502.3 1258.4L1502.9 1226.4L1503.5 1203.2L1504.1 1190.0L1505.0 1198.2L1505.6 1184.5L1506.5 1176.2L1507.1 1192.2L1507.4 1217.0L1508.0 1235.2L1508.6 1255.9L1509.2 1258.3L1509.8 1271.7L1510.7 1287.3L1515.0 1289.0L1515.6 1279.0L1515.9 1258.4L1516.2 1231.4L1516.5 1205.1L1516.8 1179.1L1517.4 1152.2L1518.0 1133.7L1518.6 1140.8L1519.2 1162.8L1519.8 1186.5L1520.4 1199.8L1521.0 1209.7L1521.6 1226.8L1522.6 1239.6L1523.5 1253.7L1524.1 1258.0L1524.4 1243.5L1524.7 1217.3L1525.3 1189.6L1525.9 1165.4L1526.5 1145.3L1527.1 1123.3L1527.7 1106.8L1528.3 1089.8L1529.5 1090.0L1530.1 1096.5L1530.7 1112.9L1531.6 1124.8L1532.6 1138.9L1533.5 1141.4L1534.4 1157.4L1535.3 1169.7L1536.2 1180.8L1536.8 1167.6L1537.4 1150.0L1538.0 1138.5L1538.9 1124.9L1539.8 1107.5L1540.4 1092.6L1541.0 1070.3L1541.6 1049.5L1542.2 1034.2L1542.9 1018.1L1543.8 1005.9L1544.7 1007.6L1545.3 1017.0L1545.9 1012.6L1546.8 1015.6L1547.7 1032.7L1548.6 1017.2L1549.5 1004.8L1550.4 1010.0L1551.3 1013.0L1552.2 998.8L1553.2 998.3L1554.1 1005.8L1555.0 1003.1L1555.9 1008.7L1556.8 1015.7L1557.7 1021.5L1558.3 1033.3L1559.2 1020.0L1560.1 1011.6L1561.0 1001.3L1561.6 988.1L1562.5 979.6L1563.8 977.0L1564.7 978.0L1565.3 991.5L1565.9 1006.3L1566.5 1003.2L1567.1 1010.4L1568.0 1023.3L1568.6 1037.0L1569.2 1017.8L1569.8 990.6L1570.4 963.6L1571.0 940.5L1571.9 934.2L1572.8 935.4L1573.1 959.7L1573.8 975.7L1574.4 989.5L1575.0 1010.3L1575.6 1033.1L1576.2 1043.5L1576.8 1056.1L1578.0 1054.8L1578.3 1074.5L1578.9 1090.9L1579.5 1096.1L1580.4 1114.5L1581.3 1119.5L1582.9 1125.4L1583.8 1146.6L1584.4 1166.8L1585.0 1178.3L1585.6 1165.4L1586.2 1150.1L1587.1 1155.7L1587.7 1139.2L1588.7 1124.2L1589.3 1121.2L1590.2 1133.6L1590.8 1141.9L1591.7 1133.0L1592.6 1128.6L1593.2 1145.0L1593.8 1167.5L1594.4 1192.2L1595.0 1199.8L1595.3 1214.6L1595.9 1230.5L1596.5 1248.5L1597.1 1259.3L1597.7 1265.9L1598.4 1257.6L1599.0 1269.0L1599.6 1289.0L1600.2 1289.0L1600.8 1279.0L1601.1 1264.9L1601.7 1253.2L1602.3 1258.0L1602.6 1229.6L1602.9 1203.9L1603.2 1176.3L1603.5 1150.9L1603.8 1124.9L1604.7 1122.2L1605.6 1117.2L1606.5 1114.0L1607.1 1108.6L1607.7 1098.9L1608.3 1086.6L1609.0 1083.3L1609.9 1082.8L1610.5 1098.1L1611.1 1115.5L1611.4 1138.7L1612.0 1167.8L1612.6 1192.5L1613.2 1178.1L1613.8 1151.1L1614.4 1123.5L1615.0 1114.4L1615.6 1096.3L1616.2 1075.1L1617.1 1066.5L1617.7 1082.2L1618.0 1111.8L1618.6 1151.5L1619.3 1176.5L1619.9 1199.9L1620.5 1206.6L1621.1 1187.4L1622.0 1183.6L1622.6 1176.1L1623.2 1150.8L1623.8 1125.1L1624.4 1103.6L1625.0 1092.2L1625.6 1086.0L1626.2 1069.0L1626.8 1050.3L1627.4 1028.1L1628.0 1012.6L1628.6 999.4L1629.2 1012.8L1629.9 991.7L1630.5 970.3L1631.4 961.1L1632.6 957.6L1633.5 958.2L1634.1 976.1L1634.4 1015.3L1634.7 1069.1L1635.0 1124.6L1635.3 1178.6L1635.6 1229.7L1635.9 1288.1L1638.9 1289.0L1639.5 1280.9L1640.2 1257.4L1640.5 1231.5L1640.8 1204.8L1641.1 1178.2L1641.7 1151.9L1642.3 1125.7L1642.9 1114.1L1643.5 1097.8L1644.1 1085.1L1644.7 1093.2L1645.3 1079.7L1645.9 1066.1L1646.8 1068.3L1647.7 1069.5L1648.3 1064.1L1649.2 1062.7L1650.5 1064.5L1651.1 1070.6L1651.4 1092.4L1652.0 1101.3L1652.9 1087.6L1653.8 1092.4L1654.4 1104.0L1654.7 1082.8L1655.0 1049.4L1655.6 1016.0L1656.2 989.3L1656.8 975.7L1657.7 974.4L1658.3 991.7L1658.6 1015.6L1658.9 1044.6L1659.8 1032.2L1660.8 1021.0L1661.7 1017.5L1662.6 1009.7L1663.2 1003.4L1663.8 1016.6L1664.7 1023.1L1665.6 1018.9L1666.5 1025.6L1667.4 1024.4L1668.3 1029.3L1669.2 1030.9L1670.1 1031.7L1671.1 1038.0L1672.0 1042.3L1672.9 1050.7L1673.8 1055.3L1674.7 1059.9L1675.6 1063.7L1676.2 1070.4L1676.5 1044.1L1676.8 1017.8L1677.4 1007.9L1678.3 1011.7L1678.9 1018.2L1679.5 1018.0L1680.4 1008.0L1681.4 1000.1L1682.0 1010.6L1682.6 1021.4L1683.2 1035.4L1683.8 1044.3L1684.4 1052.4L1685.0 1038.9L1685.6 1034.8L1686.5 1035.8L1687.1 1044.8L1688.0 1040.2L1688.3 1060.7L1688.6 1082.7L1689.2 1104.2L1689.8 1113.2L1690.7 1109.9L1691.7 1106.4L1692.6 1109.4L1693.5 1115.8L1694.4 1119.5L1695.0 1138.8L1695.6 1157.5L1696.2 1172.3L1696.8 1187.6L1697.1 1221.9L1698.0 1218.6L1698.9 1202.0L1700.1 1214.7L1701.0 1230.6L1701.9 1251.7L1702.6 1267.5L1703.2 1284.1L1703.8 1289.0L1708.6 1289.0L1709.2 1284.9L1710.4 1289.0L1717.1 1289.0L1717.4 1279.1L1717.7 1258.3L1718.0 1230.4L1718.3 1210.7L1718.9 1195.8L1719.8 1197.2L1720.4 1220.2L1721.0 1203.1L1721.6 1188.1L1722.2 1172.8L1722.9 1161.9L1723.8 1153.2L1724.4 1166.9L1725.0 1178.5L1725.9 1173.9L1726.2 1193.2L1726.8 1210.8L1727.4 1229.8L1728.0 1247.3L1728.6 1262.2L1729.2 1271.5L1729.8 1256.5L1730.1 1232.7L1730.7 1218.4L1731.3 1213.7L1731.9 1208.1L1732.8 1200.1L1733.8 1193.4L1734.4 1181.5L1735.3 1183.4L1735.9 1204.5L1736.2 1185.8L1736.5 1167.7L1737.1 1155.3L1737.7 1148.0L1738.6 1152.1L1739.2 1159.9L1740.1 1158.5L1740.7 1167.8L1741.3 1178.0L1741.9 1192.2L1742.5 1194.6L1743.1 1205.2L1743.8 1214.7L1744.4 1230.6L1745.0 1248.2L1745.6 1259.5L1746.2 1271.3L1746.4 1257.3L1746.7 1232.2L1747.0 1205.0L1747.3 1178.6L1747.6 1149.9L1748.2 1123.9L1748.8 1098.7L1749.4 1082.6L1750.1 1065.5L1750.7 1075.7L1751.6 1082.1L1752.5 1079.9L1753.1 1071.6L1753.7 1076.6L1754.3 1070.8L1755.2 1068.6L1755.8 1055.1L1756.4 1039.6L1757.3 1044.4L1758.2 1059.6L1758.8 1064.3L1759.4 1054.7L1760.4 1047.9L1761.3 1042.1L1762.2 1041.5L1763.1 1034.1L1764.0 1024.3L1764.9 1018.0L1765.8 1016.0L1767.0 1010.3L1767.9 1022.6L1768.5 1026.6L1769.1 1033.4L1769.7 1047.8L1770.4 1027.8L1771.0 1050.2L1771.6 1073.5L1772.2 1054.3L1772.8 1037.9L1773.4 1023.7L1774.0 1020.5L1774.9 1021.9L1775.5 1036.2L1776.4 1025.0L1777.3 1036.9L1777.9 1060.5L1778.5 1070.5L1779.4 1074.5L1780.3 1081.2L1781.3 1070.6L1782.2 1058.8L1783.1 1052.9L1783.7 1039.4L1784.3 1018.2L1784.9 1000.8L1785.8 999.3L1786.4 1022.4L1787.0 1039.9L1787.6 1058.4L1788.2 1084.3L1788.8 1106.7L1789.4 1118.3L1790.0 1136.4L1790.6 1152.0L1791.3 1160.6L1791.9 1146.4L1792.5 1124.4L1792.8 1101.5L1793.4 1080.1L1794.0 1055.5L1794.6 1034.0L1795.2 1017.3L1795.8 1006.2L1796.7 1004.0L1797.6 991.5L1798.2 983.0L1799.1 978.2L1800.0 979.5L1800.9 989.1L1801.9 979.3L1802.8 968.0L1803.7 965.0L1804.3 973.0L1805.2 980.8L1806.1 981.9L1807.0 990.1L1807.9 992.5L1808.8 1001.6L1809.4 1003.3" clip-path="url(#k10)" fill="none" stroke="#05216c" stroke-width="3.9" stroke-linejoin="round" stroke-linecap="round"/>
<path d="M1115.1 1202.8L1115.7 1195.8L1116.4 1189.8L1117.1 1192.3L1117.7 1196.9L1118.4 1203.5L1119.1 1210.4L1119.8 1222.8L1120.4 1225.7L1121.1 1224.5L1121.8 1230.3L1122.4 1220.8L1123.1 1219.2L1123.8 1211.1L1124.4 1205.2L1125.1 1201.1L1125.8 1198.5L1126.6 1192.2L1127.4 1178.6L1128.2 1165.9L1129.0 1148.9L1129.8 1137.7L1130.6 1130.7L1131.4 1118.7L1132.2 1114.7L1133.0 1109.5L1133.8 1109.4L1134.6 1106.7L1135.4 1095.6L1136.2 1088.9L1137.0 1077.0L1137.8 1055.6L1138.6 1042.1L1139.3 1044.1L1139.9 1039.0L1140.6 1055.4L1141.3 1069.7L1142.3 1095.7L1143.4 1079.2L1144.2 1071.5L1145.0 1063.1L1145.8 1056.4L1146.6 1055.2L1147.4 1048.8L1148.2 1042.4L1149.0 1037.3L1149.8 1029.4L1150.6 1023.9L1151.4 1016.5L1152.5 1017.7L1153.5 1034.9L1154.6 1049.7L1155.4 1053.3L1156.2 1053.0L1157.0 1058.5L1157.8 1063.2L1158.6 1065.2L1159.4 1066.9L1160.2 1072.8L1161.0 1068.4L1161.8 1085.1L1162.6 1090.8L1163.4 1094.2L1164.2 1104.5L1165.0 1102.8L1165.8 1108.4L1166.6 1101.8L1167.4 1099.2L1168.2 1109.0L1169.0 1114.5L1169.8 1112.0L1170.6 1119.8L1171.4 1109.7L1172.2 1103.4L1173.0 1096.1L1173.8 1095.1L1174.6 1102.4L1175.4 1107.7L1176.2 1112.2L1177.0 1122.9L1177.8 1115.1L1178.7 1112.0L1179.5 1104.8L1180.3 1104.5L1181.1 1094.7L1181.9 1096.2L1182.7 1105.2L1183.5 1112.7L1184.3 1115.0L1185.1 1124.6L1185.9 1116.3L1186.7 1115.7L1187.5 1121.5L1188.3 1124.7L1189.1 1125.3L1189.9 1123.0L1190.7 1117.5L1191.5 1107.1L1192.3 1097.0L1193.1 1095.9L1193.9 1092.9L1194.7 1081.7L1195.5 1084.8L1196.3 1086.9L1197.1 1094.0L1197.9 1096.8L1198.7 1097.1L1199.5 1102.7L1200.3 1100.5L1201.1 1099.0L1201.9 1099.0L1202.7 1109.8L1203.5 1110.6L1204.3 1111.8L1205.1 1112.3L1205.9 1104.2L1206.7 1097.4L1207.5 1096.6L1208.3 1097.4L1209.1 1104.2L1209.9 1105.7L1210.7 1109.3L1211.5 1096.9L1212.3 1092.7L1213.1 1086.9L1213.9 1079.0L1214.7 1072.8L1215.5 1068.4L1216.3 1068.1L1217.1 1065.1L1217.9 1071.1L1218.7 1081.2L1219.5 1090.9L1220.3 1097.6L1221.1 1102.8L1221.9 1103.0L1222.7 1099.7L1223.5 1103.2L1224.3 1100.1L1225.1 1097.2L1225.9 1103.9L1226.7 1109.6L1227.5 1101.8L1228.3 1090.6L1229.1 1084.7L1229.9 1084.4L1230.7 1085.4L1231.5 1090.6L1232.3 1092.8L1233.1 1096.5L1233.9 1093.6L1234.7 1095.1L1235.5 1095.4L1236.3 1100.8L1237.1 1097.3L1237.9 1093.3L1238.8 1094.2L1239.6 1098.0L1240.4 1101.4L1241.2 1112.6L1242.0 1113.9L1242.8 1117.9L1243.6 1111.5L1244.4 1108.9L1245.2 1103.7L1246.0 1102.7L1246.8 1097.2L1247.6 1096.5L1248.4 1086.6L1249.2 1081.7L1250.0 1073.2L1250.8 1066.7L1251.6 1063.0L1252.4 1064.4L1253.2 1066.8L1254.0 1074.2L1254.8 1084.9L1255.6 1095.1L1256.4 1101.3L1257.2 1113.1L1258.0 1102.3L1258.8 1093.2L1259.6 1086.3L1260.4 1084.6L1261.2 1094.7L1262.0 1101.7L1262.8 1108.7L1263.6 1117.6L1264.3 1124.0L1265.0 1122.7L1265.8 1129.9L1266.6 1136.6L1267.4 1144.6L1268.2 1150.1L1269.0 1153.7L1269.8 1160.8L1270.6 1162.2L1271.4 1168.7L1272.2 1165.6L1273.0 1158.9L1273.8 1159.4L1274.6 1163.9L1275.4 1163.1L1276.2 1166.1L1277.0 1167.9L1277.8 1161.5L1278.6 1166.3L1279.4 1168.6L1280.2 1175.1L1281.0 1178.2L1281.8 1185.4L1282.6 1189.4L1283.4 1186.7L1284.2 1177.5L1285.0 1177.1L1285.8 1174.3L1286.9 1193.1L1287.7 1203.7L1288.5 1207.8L1289.3 1224.4L1290.1 1231.3L1290.9 1243.5L1291.7 1252.7L1292.8 1270.0L1293.6 1260.2L1294.4 1258.2L1295.4 1273.0L1296.2 1262.0L1297.0 1256.7L1297.8 1257.3L1298.6 1261.0L1299.3 1253.6L1300.0 1246.3L1300.7 1254.3L1301.3 1266.0L1302.1 1264.4L1302.9 1267.7L1303.7 1262.8L1304.5 1256.5L1305.3 1250.1L1306.1 1246.7L1306.9 1237.7L1307.7 1234.3L1308.5 1232.7L1309.3 1231.5L1310.1 1224.9L1310.9 1227.6L1311.7 1223.5L1312.5 1214.6L1313.3 1208.5L1314.1 1205.7L1314.9 1197.7L1315.7 1191.8L1316.5 1189.1L1317.3 1183.0L1318.1 1177.0L1318.9 1167.6L1319.6 1152.0L1320.3 1145.8L1321.1 1111.3L1321.9 1079.4L1322.7 1048.6L1323.5 1023.3L1324.3 998.8L1325.4 998.2L1326.4 1017.3L1327.1 1031.8L1327.8 1041.6L1328.4 1033.0L1329.1 1023.2L1330.2 995.6L1331.2 965.0L1332.3 941.5L1333.4 939.6L1334.4 964.3L1335.2 997.0L1336.0 1028.9L1336.8 1061.8L1337.6 1081.0L1338.7 1098.1L1339.8 1106.0L1340.9 1122.7L1341.9 1130.3L1343.0 1122.2L1344.1 1133.4L1345.1 1140.6L1345.9 1147.0L1346.7 1147.5L1347.5 1142.8L1348.3 1136.7L1349.1 1129.7L1349.9 1122.9L1350.7 1128.5L1351.5 1125.5L1352.3 1125.6L1353.1 1121.1L1353.9 1121.3L1354.7 1119.4L1355.5 1121.0L1356.3 1124.1L1357.1 1121.1L1357.9 1114.8L1359.0 1091.4L1360.1 1083.1L1361.2 1098.2L1362.2 1113.4L1363.0 1112.4L1363.8 1116.9L1364.6 1112.8L1365.4 1109.9L1366.2 1100.2L1367.0 1097.5L1367.8 1088.5L1368.6 1080.2L1369.4 1076.0L1370.2 1073.2L1371.0 1065.6L1371.8 1065.5L1372.9 1062.8L1374.0 1079.6L1375.0 1098.4L1376.1 1114.1L1377.2 1127.9L1378.0 1138.3L1378.8 1138.5L1379.6 1143.7L1380.4 1150.9L1381.2 1149.8L1382.0 1144.1L1382.8 1152.5L1383.6 1168.2L1384.4 1172.2L1385.2 1177.2L1386.0 1178.8L1386.8 1180.8L1387.6 1179.0L1388.4 1171.7L1389.2 1164.1L1390.0 1163.2L1390.8 1166.3L1391.6 1165.4L1392.4 1156.2L1393.2 1150.0L1394.3 1144.6L1395.3 1155.1L1396.1 1157.3L1396.9 1164.6L1397.7 1170.4L1398.5 1179.3L1399.4 1178.5L1400.2 1186.6L1401.0 1181.5L1401.8 1178.2L1402.6 1174.3L1403.4 1173.6L1404.4 1178.3L1405.5 1148.9L1406.6 1125.4L1407.6 1112.7L1408.7 1097.5L1409.8 1082.5L1410.8 1085.9L1411.9 1104.4L1413.0 1125.6L1414.0 1108.4L1415.1 1099.0L1415.9 1096.9L1416.7 1088.8L1417.5 1091.1L1418.3 1095.6L1419.1 1102.9L1419.9 1102.8L1420.7 1106.7L1421.5 1107.4L1422.3 1110.6L1423.1 1111.4L1423.9 1118.3L1424.7 1123.1L1425.5 1115.6L1426.3 1114.7L1427.1 1104.1L1427.9 1097.1L1428.7 1080.3L1429.5 1070.2L1430.6 1061.9L1431.4 1068.4L1432.2 1070.2L1433.0 1077.8L1433.8 1080.0L1434.6 1070.3L1435.4 1061.3L1436.2 1066.0L1437.0 1068.3L1437.8 1073.8L1438.6 1085.1L1439.4 1078.0L1440.2 1075.1L1441.0 1073.9L1441.8 1064.3L1442.6 1065.8L1443.4 1061.3L1444.5 1055.3L1445.3 1062.6L1446.1 1063.5L1446.9 1067.9L1447.7 1071.2L1448.5 1070.6L1449.3 1077.7L1450.1 1076.5L1450.9 1083.0L1451.7 1088.1L1452.5 1087.2L1453.3 1088.9L1454.1 1093.0L1455.0 1082.7L1455.8 1082.5L1456.6 1091.1L1457.4 1094.5L1458.2 1104.0L1459.0 1098.8L1459.8 1097.8L1460.6 1092.7L1461.4 1084.5L1462.2 1081.5L1463.0 1081.7L1463.8 1090.1L1464.6 1098.7L1465.4 1099.7L1466.2 1107.2L1467.0 1110.6L1467.8 1118.8L1468.6 1120.9L1469.4 1129.2L1470.2 1132.5L1471.0 1137.0L1471.8 1136.6L1472.6 1140.4L1473.4 1138.0L1474.2 1131.2L1475.0 1130.4L1475.8 1128.5L1476.6 1126.0L1477.4 1132.0L1478.2 1135.1L1479.1 1144.7L1479.9 1137.5L1480.7 1130.3L1481.5 1128.2L1482.3 1126.9L1483.1 1130.9L1483.9 1136.3L1484.7 1136.2L1485.5 1133.4L1486.3 1135.7L1487.1 1137.8L1487.9 1130.1L1488.7 1130.7L1489.7 1124.9L1490.5 1131.1L1491.3 1136.0L1492.1 1140.4L1492.9 1143.7L1493.7 1144.1L1494.5 1147.3L1495.3 1139.0L1496.1 1140.5L1496.9 1141.6L1497.7 1149.9L1498.6 1155.9L1499.4 1164.1L1500.2 1153.6L1501.0 1152.3L1502.0 1131.2L1503.1 1138.2L1503.9 1139.8L1504.7 1144.3L1505.5 1145.5L1506.3 1141.2L1507.1 1149.3L1507.9 1151.8L1508.7 1159.6L1509.5 1161.8L1510.3 1162.7L1511.1 1172.6L1511.9 1175.0L1512.7 1174.9L1513.5 1172.5L1514.3 1165.7L1515.1 1159.5L1515.9 1157.4L1516.7 1159.5L1517.5 1157.9L1518.3 1159.0L1519.1 1166.1L1519.9 1165.9L1520.7 1162.0L1521.5 1172.2L1522.3 1173.9L1523.1 1171.0L1523.9 1175.1L1524.7 1169.2L1525.5 1155.8L1526.3 1143.8L1527.1 1139.9L1527.9 1130.5L1528.7 1120.3L1529.5 1120.8L1530.3 1114.2L1531.1 1114.6L1531.9 1111.4L1532.7 1123.7L1533.5 1127.7L1534.3 1138.4L1535.1 1143.1L1535.9 1141.0L1536.7 1133.0L1537.5 1123.3L1538.4 1114.0L1539.4 1099.0L1540.5 1083.1L1541.6 1065.7L1542.6 1066.4L1543.7 1075.7L1544.5 1083.3L1545.3 1089.0L1546.1 1099.3L1546.9 1103.3L1547.7 1100.5L1548.5 1091.6L1549.3 1082.9L1550.1 1080.7L1550.9 1080.8L1551.7 1087.7L1552.8 1072.4L1553.8 1067.6L1554.9 1081.2L1555.7 1085.9L1556.5 1092.3L1557.3 1089.4L1558.1 1088.2L1558.9 1081.6L1559.7 1081.9L1560.5 1078.9L1561.3 1074.4L1562.1 1075.4L1562.9 1072.0L1564.0 1081.9L1565.1 1088.2L1566.1 1074.6L1567.2 1071.7L1568.0 1078.7L1568.8 1082.7L1569.9 1069.5L1570.9 1067.5L1572.0 1082.9L1572.8 1084.4L1573.6 1086.1L1574.4 1091.3L1575.2 1093.7L1576.0 1088.8L1576.8 1091.0L1577.6 1090.3L1578.4 1087.4L1579.2 1091.5L1580.0 1096.2L1580.8 1097.8L1581.6 1100.6L1582.4 1096.4L1583.2 1096.9L1584.0 1097.8L1584.8 1104.5L1585.6 1104.3L1586.4 1107.5L1587.2 1105.7L1588.0 1101.2L1588.8 1099.9L1589.6 1097.9L1590.4 1101.9L1591.2 1107.0L1592.0 1115.2L1592.8 1117.2L1593.6 1124.9L1594.4 1130.8L1595.2 1138.3L1596.0 1141.3L1596.8 1147.3L1597.6 1149.9L1598.5 1160.5L1599.3 1168.5L1600.1 1161.8L1600.9 1161.1L1601.7 1160.0L1602.5 1152.5L1603.3 1151.1L1604.1 1145.9L1604.9 1138.3L1605.7 1135.4L1606.5 1135.0L1607.3 1135.7L1608.1 1140.6L1608.9 1145.9L1609.7 1149.4L1610.5 1152.7L1611.3 1147.3L1612.1 1143.9L1612.9 1139.4L1613.7 1139.0L1614.5 1139.7L1615.3 1144.0L1616.1 1147.5L1616.9 1156.2L1617.7 1155.0L1618.5 1160.1L1619.3 1165.9L1620.1 1164.8L1620.9 1159.2L1621.7 1161.5L1622.5 1156.6L1623.3 1150.9L1624.4 1138.8L1625.4 1122.1L1626.5 1107.7L1627.6 1089.8L1628.6 1080.7L1629.7 1085.5L1630.8 1101.2L1631.8 1124.2L1632.9 1152.5L1634.0 1175.4L1635.0 1200.8L1636.1 1214.5L1637.2 1217.6L1638.3 1202.5L1639.3 1177.9L1640.1 1174.4L1640.9 1167.6L1641.7 1163.9L1642.5 1155.7L1643.3 1154.5L1644.1 1149.6L1645.0 1151.7L1645.8 1146.6L1646.6 1141.0L1647.4 1127.9L1648.2 1122.5L1649.0 1115.6L1649.8 1112.7L1650.6 1119.4L1651.4 1125.4L1652.2 1126.5L1653.0 1134.6L1653.8 1141.2L1654.6 1141.3L1655.4 1135.3L1656.2 1123.0L1657.0 1116.5L1657.8 1117.1L1658.6 1114.7L1659.4 1119.3L1660.2 1114.3L1661.0 1111.7L1661.8 1106.8L1662.6 1101.2L1663.7 1081.6L1664.5 1045.7L1665.0 1003.5L1665.6 963.1L1666.1 935.3L1666.6 921.1L1667.4 926.7L1668.2 949.4L1669.0 972.2L1670.1 990.7L1671.2 1003.6L1672.2 1016.1L1673.3 1012.0L1674.4 1022.9L1675.4 1034.3L1676.5 1031.2L1677.6 1042.8L1678.7 1045.6L1679.7 1038.2L1680.8 1047.7L1681.9 1054.9L1682.9 1043.3L1684.0 1032.2L1685.1 1027.5L1686.1 1044.6L1687.2 1061.5L1688.3 1077.5L1689.3 1081.7L1690.4 1086.1L1691.5 1093.4L1692.5 1101.6L1693.6 1108.7L1694.7 1100.7L1695.8 1106.1L1696.8 1112.3L1697.9 1123.0L1699.0 1125.5L1700.0 1133.9L1701.1 1138.0L1701.9 1139.3L1702.7 1144.5L1703.5 1145.1L1704.3 1149.6L1705.1 1145.7L1705.9 1143.9L1706.7 1139.8L1707.5 1135.6L1708.6 1133.0L1709.6 1140.6L1710.4 1146.3L1711.2 1151.1L1712.0 1157.5L1712.8 1156.5L1713.6 1160.1L1714.4 1158.0L1715.2 1148.6L1716.1 1143.6L1717.1 1134.1L1717.9 1138.2L1718.7 1141.6L1719.5 1143.7L1720.3 1150.4L1721.1 1143.5L1721.9 1140.5L1722.7 1131.3L1723.5 1130.5L1724.6 1116.7L1725.7 1114.2L1726.7 1123.4L1727.8 1132.9L1728.9 1144.0L1729.9 1128.7L1731.0 1120.1L1732.1 1114.4L1733.1 1104.3L1734.2 1091.5L1735.3 1079.7L1736.4 1076.8L1737.4 1090.8L1738.2 1100.5L1739.0 1108.2L1740.1 1097.0L1741.2 1084.7L1742.2 1081.9L1743.3 1076.7L1744.4 1086.0L1745.4 1095.2L1746.5 1103.8L1747.3 1102.5L1748.1 1096.1L1748.9 1092.6L1749.7 1091.4L1750.5 1093.1L1751.3 1090.4L1752.1 1089.7L1752.9 1091.2L1753.7 1084.9L1754.5 1080.1L1755.3 1079.5L1756.1 1070.5L1757.2 1062.3L1758.3 1068.5L1759.3 1081.9L1760.1 1074.1L1760.9 1072.5L1761.7 1070.8L1762.5 1076.9L1763.3 1078.1L1764.1 1082.3L1764.9 1088.0L1765.7 1093.5L1766.8 1109.1L1767.9 1122.7L1768.9 1109.6L1770.0 1098.6L1770.8 1090.8L1771.6 1088.1L1772.4 1080.3L1773.2 1077.4L1774.0 1071.8L1774.8 1069.1L1775.9 1068.2L1776.7 1068.8L1777.5 1073.8L1778.3 1077.4L1779.1 1079.1L1779.9 1085.8L1780.7 1085.5L1781.5 1088.8L1782.3 1087.7L1783.1 1092.9L1783.9 1097.3L1784.7 1103.7L1785.5 1112.2L1786.6 1125.7L1787.6 1135.0L1788.7 1145.1L1789.5 1155.2L1790.3 1141.6L1791.4 1123.5L1792.4 1113.7L1793.5 1107.1L1794.6 1110.5L1795.7 1100.6L1796.7 1084.6L1797.8 1074.9L1798.9 1080.0L1799.9 1090.9L1800.7 1096.2L1801.5 1098.8L1802.3 1096.0L1803.1 1095.1L1803.9 1096.5L1804.7 1100.7L1805.5 1106.2L1806.3 1108.7L1807.4 1110.5L1808.5 1104.3L1809.5 1101.3" clip-path="url(#k10)" fill="none" stroke="#1bb3f0" stroke-width="5.7" stroke-linejoin="round" stroke-linecap="round"/>
<line x1="1085.8" y1="1289.4" x2="1811" y2="1289.4" stroke="#333" stroke-width="1.7"/>
<text x="1041" y="1394.5" font-size="23.5" fill="#000" textLength="786.0" lengthAdjust="spacingAndGlyphs"><tspan font-weight="bold" stroke="#000" stroke-width="0.35">Source:</tspan> BofA Global Investment Strategy, ICE Data Indices LLC, Bloomberg, EPFR, Global Fund</text>
<text x="1041.0" y="1425.0" font-size="23.5" fill="#000" textLength="136.0" lengthAdjust="spacingAndGlyphs">Manager Survey</text>
<text x="1663.5" y="1454.5" font-size="24" fill="#6e6e6e" textLength="210.0" lengthAdjust="spacingAndGlyphs">BofA GLOBAL RESEARCH</text>
</svg>
</body></html>
